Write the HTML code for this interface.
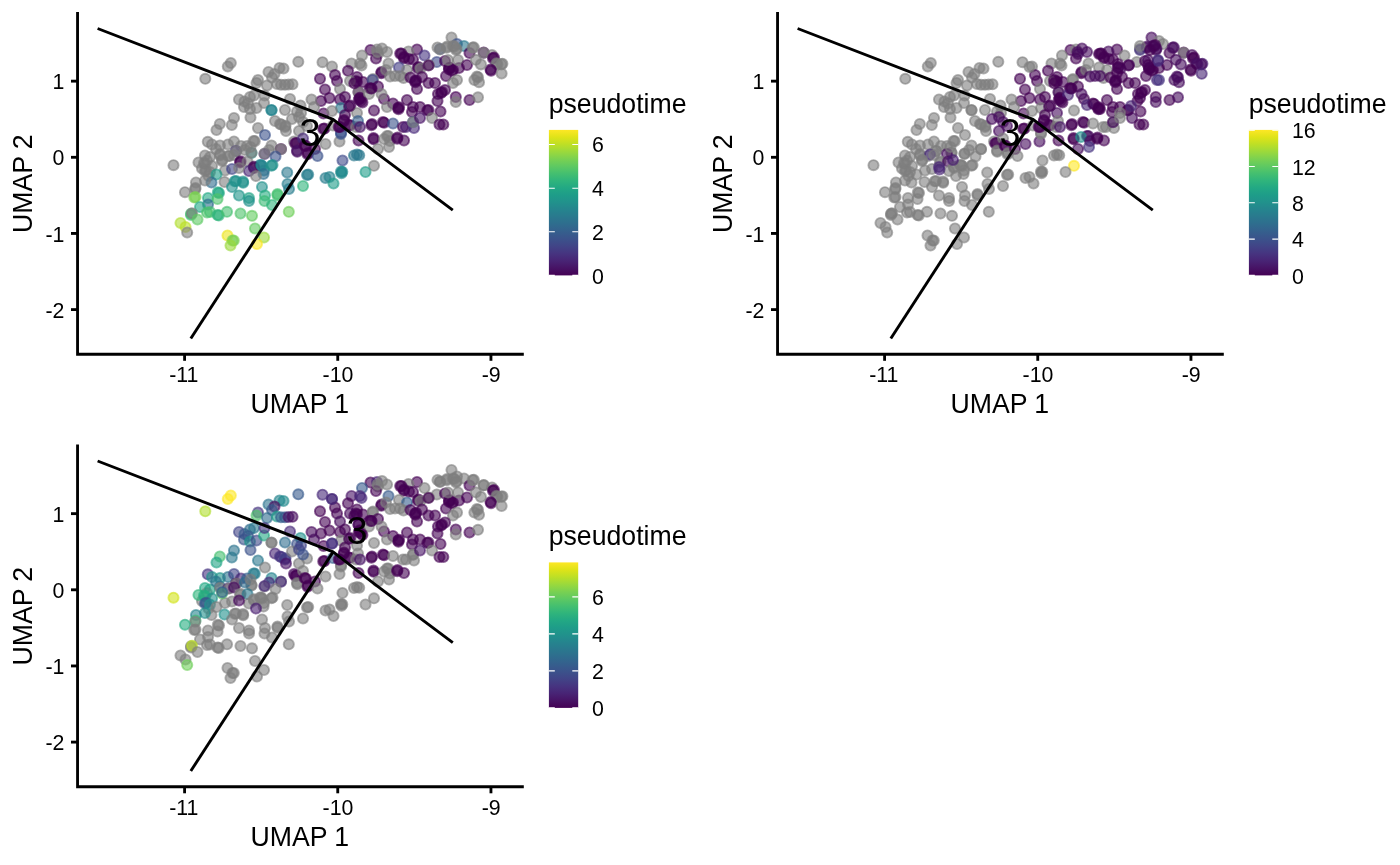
<!DOCTYPE html>
<html lang="en">
<head>
<meta charset="utf-8">
<title>pseudotime UMAP</title>
<style>
html,body{margin:0;padding:0;background:#fff;}
body{width:1400px;height:865px;overflow:hidden;}
svg{display:block;}
text{font-family:"Liberation Sans",sans-serif;fill:#000;}
.tk{font-size:21.33px;}
.ti{font-size:26.67px;}
.ax{fill:none;stroke:#000;stroke-width:2.85;stroke-linejoin:miter;}
.tr{fill:none;stroke:#000;stroke-width:2.9;stroke-linejoin:round;stroke-linecap:butt;}
.p circle{fill-opacity:.6;stroke-opacity:.6;stroke-width:1.9;}
.lt{stroke:#fff;stroke-width:1.1;}
</style>
</head>
<body>
<svg width="1400" height="865" viewBox="0 0 1400 865">
<defs>
<linearGradient id="vg" x1="0" y1="1" x2="0" y2="0">

<stop offset="0" stop-color="#440154"/>
<stop offset="0.05" stop-color="#471365"/>
<stop offset="0.1" stop-color="#482475"/>
<stop offset="0.15" stop-color="#463480"/>
<stop offset="0.2" stop-color="#414487"/>
<stop offset="0.25" stop-color="#3b528b"/>
<stop offset="0.3" stop-color="#355f8d"/>
<stop offset="0.35" stop-color="#2f6c8e"/>
<stop offset="0.4" stop-color="#2a788e"/>
<stop offset="0.45" stop-color="#25848e"/>
<stop offset="0.5" stop-color="#21918c"/>
<stop offset="0.55" stop-color="#1e9c89"/>
<stop offset="0.6" stop-color="#22a884"/>
<stop offset="0.65" stop-color="#2fb47c"/>
<stop offset="0.7" stop-color="#44bf70"/>
<stop offset="0.75" stop-color="#5ec962"/>
<stop offset="0.8" stop-color="#7ad151"/>
<stop offset="0.85" stop-color="#9bd93c"/>
<stop offset="0.9" stop-color="#bddf26"/>
<stop offset="0.95" stop-color="#dfe318"/>
<stop offset="1" stop-color="#fde725"/>

</linearGradient>
</defs>
<rect width="1400" height="865" fill="#fff"/>

<g transform="translate(0,0)">
<g class="p">
<circle cx="205.3" cy="78.8" r="5.1" fill="#7f7f7f" stroke="#7f7f7f"/>
<circle cx="227.8" cy="66.5" r="5.1" fill="#7f7f7f" stroke="#7f7f7f"/>
<circle cx="230.8" cy="63" r="5.1" fill="#7f7f7f" stroke="#7f7f7f"/>
<circle cx="298.3" cy="61.8" r="5.1" fill="#7f7f7f" stroke="#7f7f7f"/>
<circle cx="322.5" cy="62.2" r="5.1" fill="#7f7f7f" stroke="#7f7f7f"/>
<circle cx="268.5" cy="72" r="5.1" fill="#7f7f7f" stroke="#7f7f7f"/>
<circle cx="279.5" cy="68" r="5.1" fill="#7f7f7f" stroke="#7f7f7f"/>
<circle cx="283.5" cy="68.5" r="5.1" fill="#7f7f7f" stroke="#7f7f7f"/>
<circle cx="274.5" cy="74" r="5.1" fill="#7f7f7f" stroke="#7f7f7f"/>
<circle cx="272" cy="77.5" r="5.1" fill="#7f7f7f" stroke="#7f7f7f"/>
<circle cx="258" cy="80" r="5.1" fill="#7f7f7f" stroke="#7f7f7f"/>
<circle cx="256.5" cy="83" r="5.1" fill="#7f7f7f" stroke="#7f7f7f"/>
<circle cx="267" cy="85.5" r="5.1" fill="#7f7f7f" stroke="#7f7f7f"/>
<circle cx="277" cy="84" r="5.1" fill="#7f7f7f" stroke="#7f7f7f"/>
<circle cx="281" cy="84.8" r="5.1" fill="#7f7f7f" stroke="#7f7f7f"/>
<circle cx="285" cy="84.8" r="5.1" fill="#7f7f7f" stroke="#7f7f7f"/>
<circle cx="288.5" cy="84.5" r="5.1" fill="#7f7f7f" stroke="#7f7f7f"/>
<circle cx="292.5" cy="84.3" r="5.1" fill="#7f7f7f" stroke="#7f7f7f"/>
<circle cx="320" cy="78.8" r="5.1" fill="#440154" stroke="#440154"/>
<circle cx="325" cy="89.5" r="5.1" fill="#440154" stroke="#440154"/>
<circle cx="321" cy="101" r="5.1" fill="#440154" stroke="#440154"/>
<circle cx="329.5" cy="98" r="5.1" fill="#440154" stroke="#440154"/>
<circle cx="323.5" cy="113.5" r="5.1" fill="#440154" stroke="#440154"/>
<circle cx="239" cy="99.5" r="5.1" fill="#7f7f7f" stroke="#7f7f7f"/>
<circle cx="244.5" cy="101.5" r="5.1" fill="#7f7f7f" stroke="#7f7f7f"/>
<circle cx="250" cy="97" r="5.1" fill="#7f7f7f" stroke="#7f7f7f"/>
<circle cx="254" cy="95.5" r="5.1" fill="#7f7f7f" stroke="#7f7f7f"/>
<circle cx="248" cy="103.5" r="5.1" fill="#7f7f7f" stroke="#7f7f7f"/>
<circle cx="244" cy="107" r="5.1" fill="#7f7f7f" stroke="#7f7f7f"/>
<circle cx="250" cy="109" r="5.1" fill="#7f7f7f" stroke="#7f7f7f"/>
<circle cx="256.5" cy="108" r="5.1" fill="#7f7f7f" stroke="#7f7f7f"/>
<circle cx="264" cy="103" r="5.1" fill="#7f7f7f" stroke="#7f7f7f"/>
<circle cx="264.5" cy="95.5" r="5.1" fill="#7f7f7f" stroke="#7f7f7f"/>
<circle cx="290" cy="99" r="5.1" fill="#7f7f7f" stroke="#7f7f7f"/>
<circle cx="300.5" cy="105.5" r="5.1" fill="#7f7f7f" stroke="#7f7f7f"/>
<circle cx="311.5" cy="99.5" r="5.1" fill="#7f7f7f" stroke="#7f7f7f"/>
<circle cx="285" cy="110" r="5.1" fill="#7f7f7f" stroke="#7f7f7f"/>
<circle cx="297" cy="111.5" r="5.1" fill="#7f7f7f" stroke="#7f7f7f"/>
<circle cx="301" cy="113" r="5.1" fill="#7f7f7f" stroke="#7f7f7f"/>
<circle cx="271.5" cy="110" r="5.1" fill="#25848e" stroke="#25848e"/>
<circle cx="271.5" cy="110.2" r="5.1" fill="#25848e" stroke="#25848e"/>
<circle cx="314" cy="107" r="5.1" fill="#7f7f7f" stroke="#7f7f7f"/>
<circle cx="451.5" cy="37.5" r="5.1" fill="#7f7f7f" stroke="#7f7f7f"/>
<circle cx="457" cy="44" r="5.1" fill="#3b528b" stroke="#3b528b"/>
<circle cx="464" cy="46" r="5.1" fill="#2a788e" stroke="#2a788e"/>
<circle cx="440" cy="49" r="5.1" fill="#3b528b" stroke="#3b528b"/>
<circle cx="447" cy="46.5" r="5.1" fill="#7f7f7f" stroke="#7f7f7f"/>
<circle cx="446.7" cy="47.77" r="5.1" fill="#7f7f7f" stroke="#7f7f7f"/>
<circle cx="453" cy="46" r="5.1" fill="#7f7f7f" stroke="#7f7f7f"/>
<circle cx="454.23" cy="46.41" r="5.1" fill="#7f7f7f" stroke="#7f7f7f"/>
<circle cx="456" cy="50" r="5.1" fill="#7f7f7f" stroke="#7f7f7f"/>
<circle cx="456.51" cy="48.81" r="5.1" fill="#7f7f7f" stroke="#7f7f7f"/>
<circle cx="440" cy="49.5" r="5.1" fill="#7f7f7f" stroke="#7f7f7f"/>
<circle cx="437.5" cy="47.5" r="5.1" fill="#7f7f7f" stroke="#7f7f7f"/>
<circle cx="417" cy="49.5" r="5.1" fill="#440154" stroke="#440154"/>
<circle cx="424.5" cy="55.5" r="5.1" fill="#463480" stroke="#463480"/>
<circle cx="408.5" cy="51.5" r="5.1" fill="#7f7f7f" stroke="#7f7f7f"/>
<circle cx="401.5" cy="53.5" r="5.1" fill="#440154" stroke="#440154"/>
<circle cx="400.2" cy="53.6" r="5.1" fill="#440154" stroke="#440154"/>
<circle cx="404" cy="57" r="5.1" fill="#440154" stroke="#440154"/>
<circle cx="403.98" cy="58.3" r="5.1" fill="#440154" stroke="#440154"/>
<circle cx="370.5" cy="50" r="5.1" fill="#440154" stroke="#440154"/>
<circle cx="377" cy="49.5" r="5.1" fill="#7f7f7f" stroke="#7f7f7f"/>
<circle cx="382" cy="48.5" r="5.1" fill="#7f7f7f" stroke="#7f7f7f"/>
<circle cx="387" cy="52" r="5.1" fill="#7f7f7f" stroke="#7f7f7f"/>
<circle cx="378" cy="54" r="5.1" fill="#7f7f7f" stroke="#7f7f7f"/>
<circle cx="376" cy="58.5" r="5.1" fill="#440154" stroke="#440154"/>
<circle cx="362" cy="55.5" r="5.1" fill="#7f7f7f" stroke="#7f7f7f"/>
<circle cx="351.5" cy="63.5" r="5.1" fill="#7f7f7f" stroke="#7f7f7f"/>
<circle cx="360" cy="63.5" r="5.1" fill="#7f7f7f" stroke="#7f7f7f"/>
<circle cx="361.5" cy="65.5" r="5.1" fill="#7f7f7f" stroke="#7f7f7f"/>
<circle cx="388.5" cy="63.5" r="5.1" fill="#7f7f7f" stroke="#7f7f7f"/>
<circle cx="332" cy="66.5" r="5.1" fill="#7f7f7f" stroke="#7f7f7f"/>
<circle cx="348" cy="70.8" r="5.1" fill="#440154" stroke="#440154"/>
<circle cx="335" cy="75" r="5.1" fill="#440154" stroke="#440154"/>
<circle cx="337" cy="81" r="5.1" fill="#440154" stroke="#440154"/>
<circle cx="357" cy="77" r="5.1" fill="#440154" stroke="#440154"/>
<circle cx="356" cy="81" r="5.1" fill="#440154" stroke="#440154"/>
<circle cx="356.9" cy="81.93" r="5.1" fill="#440154" stroke="#440154"/>
<circle cx="363" cy="82" r="5.1" fill="#440154" stroke="#440154"/>
<circle cx="381.5" cy="72" r="5.1" fill="#440154" stroke="#440154"/>
<circle cx="381.31" cy="73.29" r="5.1" fill="#440154" stroke="#440154"/>
<circle cx="386" cy="70" r="5.1" fill="#7f7f7f" stroke="#7f7f7f"/>
<circle cx="399" cy="67.5" r="5.1" fill="#433e85" stroke="#433e85"/>
<circle cx="436.8" cy="62" r="5.1" fill="#3e4989" stroke="#3e4989"/>
<circle cx="407" cy="70" r="5.1" fill="#7f7f7f" stroke="#7f7f7f"/>
<circle cx="403.5" cy="78" r="5.1" fill="#7f7f7f" stroke="#7f7f7f"/>
<circle cx="400" cy="76" r="5.1" fill="#7f7f7f" stroke="#7f7f7f"/>
<circle cx="418.5" cy="67" r="5.1" fill="#440154" stroke="#440154"/>
<circle cx="417.88" cy="68.14" r="5.1" fill="#440154" stroke="#440154"/>
<circle cx="420.5" cy="68.5" r="5.1" fill="#7f7f7f" stroke="#7f7f7f"/>
<circle cx="409" cy="59" r="5.1" fill="#440154" stroke="#440154"/>
<circle cx="413" cy="59.5" r="5.1" fill="#440154" stroke="#440154"/>
<circle cx="429" cy="65" r="5.1" fill="#7f7f7f" stroke="#7f7f7f"/>
<circle cx="428.5" cy="65.5" r="5.1" fill="#440154" stroke="#440154"/>
<circle cx="390" cy="76.5" r="5.1" fill="#7f7f7f" stroke="#7f7f7f"/>
<circle cx="395" cy="76" r="5.1" fill="#7f7f7f" stroke="#7f7f7f"/>
<circle cx="373" cy="79" r="5.1" fill="#7f7f7f" stroke="#7f7f7f"/>
<circle cx="372.5" cy="80" r="5.1" fill="#414487" stroke="#414487"/>
<circle cx="371" cy="88.5" r="5.1" fill="#440154" stroke="#440154"/>
<circle cx="369.72" cy="88.25" r="5.1" fill="#440154" stroke="#440154"/>
<circle cx="378" cy="86.5" r="5.1" fill="#440154" stroke="#440154"/>
<circle cx="350" cy="81" r="5.1" fill="#7f7f7f" stroke="#7f7f7f"/>
<circle cx="340" cy="89" r="5.1" fill="#7f7f7f" stroke="#7f7f7f"/>
<circle cx="358.5" cy="92" r="5.1" fill="#440154" stroke="#440154"/>
<circle cx="358.5" cy="92.2" r="5.1" fill="#7f7f7f" stroke="#7f7f7f"/>
<circle cx="415" cy="81" r="5.1" fill="#440154" stroke="#440154"/>
<circle cx="415.37" cy="82.25" r="5.1" fill="#440154" stroke="#440154"/>
<circle cx="416.14" cy="80.38" r="5.1" fill="#440154" stroke="#440154"/>
<circle cx="410.5" cy="77.5" r="5.1" fill="#440154" stroke="#440154"/>
<circle cx="417" cy="89" r="5.1" fill="#440154" stroke="#440154"/>
<circle cx="422" cy="77" r="5.1" fill="#440154" stroke="#440154"/>
<circle cx="428.5" cy="83" r="5.1" fill="#440154" stroke="#440154"/>
<circle cx="435" cy="83" r="5.1" fill="#440154" stroke="#440154"/>
<circle cx="449" cy="68" r="5.1" fill="#440154" stroke="#440154"/>
<circle cx="448.92" cy="69.3" r="5.1" fill="#440154" stroke="#440154"/>
<circle cx="450.29" cy="67.81" r="5.1" fill="#440154" stroke="#440154"/>
<circle cx="453" cy="70" r="5.1" fill="#440154" stroke="#440154"/>
<circle cx="451.92" cy="70.72" r="5.1" fill="#440154" stroke="#440154"/>
<circle cx="459" cy="68" r="5.1" fill="#440154" stroke="#440154"/>
<circle cx="445" cy="61" r="5.1" fill="#440154" stroke="#440154"/>
<circle cx="458" cy="60" r="5.1" fill="#7f7f7f" stroke="#7f7f7f"/>
<circle cx="448" cy="60" r="5.1" fill="#7f7f7f" stroke="#7f7f7f"/>
<circle cx="467" cy="65" r="5.1" fill="#440154" stroke="#440154"/>
<circle cx="469.5" cy="53" r="5.1" fill="#440154" stroke="#440154"/>
<circle cx="446" cy="76" r="5.1" fill="#440154" stroke="#440154"/>
<circle cx="453" cy="83" r="5.1" fill="#7f7f7f" stroke="#7f7f7f"/>
<circle cx="457" cy="80" r="5.1" fill="#7f7f7f" stroke="#7f7f7f"/>
<circle cx="438" cy="94" r="5.1" fill="#440154" stroke="#440154"/>
<circle cx="445" cy="90" r="5.1" fill="#440154" stroke="#440154"/>
<circle cx="442" cy="92" r="5.1" fill="#440154" stroke="#440154"/>
<circle cx="441.1" cy="92.94" r="5.1" fill="#440154" stroke="#440154"/>
<circle cx="437.5" cy="101" r="5.1" fill="#440154" stroke="#440154"/>
<circle cx="455.8" cy="97" r="5.1" fill="#440154" stroke="#440154"/>
<circle cx="455.8" cy="102" r="5.1" fill="#7f7f7f" stroke="#7f7f7f"/>
<circle cx="469.5" cy="100" r="5.1" fill="#440154" stroke="#440154"/>
<circle cx="407" cy="100" r="5.1" fill="#440154" stroke="#440154"/>
<circle cx="384" cy="99" r="5.1" fill="#440154" stroke="#440154"/>
<circle cx="381.5" cy="94" r="5.1" fill="#7f7f7f" stroke="#7f7f7f"/>
<circle cx="393" cy="103.5" r="5.1" fill="#440154" stroke="#440154"/>
<circle cx="398" cy="108" r="5.1" fill="#440154" stroke="#440154"/>
<circle cx="398.47" cy="109.21" r="5.1" fill="#440154" stroke="#440154"/>
<circle cx="399.09" cy="107.29" r="5.1" fill="#440154" stroke="#440154"/>
<circle cx="387" cy="107" r="5.1" fill="#7f7f7f" stroke="#7f7f7f"/>
<circle cx="360" cy="99" r="5.1" fill="#440154" stroke="#440154"/>
<circle cx="359.75" cy="97.72" r="5.1" fill="#440154" stroke="#440154"/>
<circle cx="358.81" cy="99.51" r="5.1" fill="#440154" stroke="#440154"/>
<circle cx="361" cy="101" r="5.1" fill="#440154" stroke="#440154"/>
<circle cx="345" cy="97" r="5.1" fill="#440154" stroke="#440154"/>
<circle cx="340" cy="99.5" r="5.1" fill="#440154" stroke="#440154"/>
<circle cx="350.5" cy="105.5" r="5.1" fill="#440154" stroke="#440154"/>
<circle cx="341" cy="108" r="5.1" fill="#2a788e" stroke="#2a788e"/>
<circle cx="345" cy="115" r="5.1" fill="#440154" stroke="#440154"/>
<circle cx="332" cy="111" r="5.1" fill="#7f7f7f" stroke="#7f7f7f"/>
<circle cx="357" cy="113" r="5.1" fill="#7f7f7f" stroke="#7f7f7f"/>
<circle cx="374" cy="110.5" r="5.1" fill="#440154" stroke="#440154"/>
<circle cx="413" cy="107" r="5.1" fill="#440154" stroke="#440154"/>
<circle cx="420" cy="107" r="5.1" fill="#440154" stroke="#440154"/>
<circle cx="412" cy="112" r="5.1" fill="#440154" stroke="#440154"/>
<circle cx="428.5" cy="110" r="5.1" fill="#440154" stroke="#440154"/>
<circle cx="427.27" cy="110.41" r="5.1" fill="#440154" stroke="#440154"/>
<circle cx="440.5" cy="111.5" r="5.1" fill="#440154" stroke="#440154"/>
<circle cx="369" cy="94" r="5.1" fill="#7f7f7f" stroke="#7f7f7f"/>
<circle cx="472.6" cy="47.6" r="5.1" fill="#7f7f7f" stroke="#7f7f7f"/>
<circle cx="473.89" cy="47.41" r="5.1" fill="#7f7f7f" stroke="#7f7f7f"/>
<circle cx="483.7" cy="52.6" r="5.1" fill="#440154" stroke="#440154"/>
<circle cx="483.7" cy="52.8" r="5.1" fill="#7f7f7f" stroke="#7f7f7f"/>
<circle cx="492" cy="55" r="5.1" fill="#7f7f7f" stroke="#7f7f7f"/>
<circle cx="493" cy="58.4" r="5.1" fill="#440154" stroke="#440154"/>
<circle cx="493.98" cy="57.55" r="5.1" fill="#440154" stroke="#440154"/>
<circle cx="497.3" cy="64.4" r="5.1" fill="#7f7f7f" stroke="#7f7f7f"/>
<circle cx="496.54" cy="63.35" r="5.1" fill="#7f7f7f" stroke="#7f7f7f"/>
<circle cx="502.4" cy="63.7" r="5.1" fill="#7f7f7f" stroke="#7f7f7f"/>
<circle cx="501.28" cy="64.37" r="5.1" fill="#7f7f7f" stroke="#7f7f7f"/>
<circle cx="490.5" cy="69.5" r="5.1" fill="#440154" stroke="#440154"/>
<circle cx="491.07" cy="70.67" r="5.1" fill="#440154" stroke="#440154"/>
<circle cx="501.6" cy="73.5" r="5.1" fill="#7f7f7f" stroke="#7f7f7f"/>
<circle cx="475.8" cy="59.8" r="5.1" fill="#7f7f7f" stroke="#7f7f7f"/>
<circle cx="480.9" cy="64.4" r="5.1" fill="#7f7f7f" stroke="#7f7f7f"/>
<circle cx="476.9" cy="76.5" r="5.1" fill="#7f7f7f" stroke="#7f7f7f"/>
<circle cx="478.01" cy="77.18" r="5.1" fill="#7f7f7f" stroke="#7f7f7f"/>
<circle cx="479" cy="82.2" r="5.1" fill="#7f7f7f" stroke="#7f7f7f"/>
<circle cx="474.4" cy="80" r="5.1" fill="#7f7f7f" stroke="#7f7f7f"/>
<circle cx="478" cy="97.3" r="5.1" fill="#7f7f7f" stroke="#7f7f7f"/>
<circle cx="234" cy="118" r="5.1" fill="#7f7f7f" stroke="#7f7f7f"/>
<circle cx="250.5" cy="117.5" r="5.1" fill="#7f7f7f" stroke="#7f7f7f"/>
<circle cx="219.8" cy="124" r="5.1" fill="#7f7f7f" stroke="#7f7f7f"/>
<circle cx="216.5" cy="130" r="5.1" fill="#7f7f7f" stroke="#7f7f7f"/>
<circle cx="231.8" cy="125" r="5.1" fill="#7f7f7f" stroke="#7f7f7f"/>
<circle cx="258" cy="128" r="5.1" fill="#7f7f7f" stroke="#7f7f7f"/>
<circle cx="265" cy="135" r="5.1" fill="#3b528b" stroke="#3b528b"/>
<circle cx="275" cy="121" r="5.1" fill="#7f7f7f" stroke="#7f7f7f"/>
<circle cx="280" cy="124" r="5.1" fill="#7f7f7f" stroke="#7f7f7f"/>
<circle cx="281.23" cy="124.43" r="5.1" fill="#7f7f7f" stroke="#7f7f7f"/>
<circle cx="285" cy="127" r="5.1" fill="#7f7f7f" stroke="#7f7f7f"/>
<circle cx="285.54" cy="125.82" r="5.1" fill="#7f7f7f" stroke="#7f7f7f"/>
<circle cx="286" cy="131" r="5.1" fill="#7f7f7f" stroke="#7f7f7f"/>
<circle cx="292" cy="119" r="5.1" fill="#7f7f7f" stroke="#7f7f7f"/>
<circle cx="299" cy="117" r="5.1" fill="#7f7f7f" stroke="#7f7f7f"/>
<circle cx="299" cy="131" r="5.1" fill="#7f7f7f" stroke="#7f7f7f"/>
<circle cx="207.8" cy="141.8" r="5.1" fill="#7f7f7f" stroke="#7f7f7f"/>
<circle cx="212" cy="144.5" r="5.1" fill="#7f7f7f" stroke="#7f7f7f"/>
<circle cx="220" cy="145.5" r="5.1" fill="#7f7f7f" stroke="#7f7f7f"/>
<circle cx="228" cy="144.5" r="5.1" fill="#7f7f7f" stroke="#7f7f7f"/>
<circle cx="234" cy="141.5" r="5.1" fill="#7f7f7f" stroke="#7f7f7f"/>
<circle cx="253.5" cy="141" r="5.1" fill="#7f7f7f" stroke="#7f7f7f"/>
<circle cx="254.79" cy="141.16" r="5.1" fill="#7f7f7f" stroke="#7f7f7f"/>
<circle cx="241" cy="146" r="5.1" fill="#7f7f7f" stroke="#7f7f7f"/>
<circle cx="247" cy="146" r="5.1" fill="#7f7f7f" stroke="#7f7f7f"/>
<circle cx="271.5" cy="145.5" r="5.1" fill="#7f7f7f" stroke="#7f7f7f"/>
<circle cx="269" cy="150" r="5.1" fill="#7f7f7f" stroke="#7f7f7f"/>
<circle cx="281" cy="149" r="5.1" fill="#440154" stroke="#440154"/>
<circle cx="281" cy="149.2" r="5.1" fill="#7f7f7f" stroke="#7f7f7f"/>
<circle cx="294" cy="141.5" r="5.1" fill="#7f7f7f" stroke="#7f7f7f"/>
<circle cx="296.5" cy="143" r="5.1" fill="#440154" stroke="#440154"/>
<circle cx="295.25" cy="143.35" r="5.1" fill="#440154" stroke="#440154"/>
<circle cx="297" cy="150.5" r="5.1" fill="#471063" stroke="#471063"/>
<circle cx="297.24" cy="151.78" r="5.1" fill="#471063" stroke="#471063"/>
<circle cx="264.5" cy="154" r="5.1" fill="#472a7a" stroke="#472a7a"/>
<circle cx="264.5" cy="153.5" r="5.1" fill="#7f7f7f" stroke="#7f7f7f"/>
<circle cx="275.5" cy="156.5" r="5.1" fill="#3b528b" stroke="#3b528b"/>
<circle cx="251.5" cy="153" r="5.1" fill="#21918c" stroke="#21918c"/>
<circle cx="251.5" cy="152.5" r="5.1" fill="#7f7f7f" stroke="#7f7f7f"/>
<circle cx="236" cy="151" r="5.1" fill="#463480" stroke="#463480"/>
<circle cx="236.5" cy="151" r="5.1" fill="#7f7f7f" stroke="#7f7f7f"/>
<circle cx="245" cy="150" r="5.1" fill="#7f7f7f" stroke="#7f7f7f"/>
<circle cx="205" cy="155.5" r="5.1" fill="#7f7f7f" stroke="#7f7f7f"/>
<circle cx="207" cy="160.5" r="5.1" fill="#7f7f7f" stroke="#7f7f7f"/>
<circle cx="202" cy="168.5" r="5.1" fill="#7f7f7f" stroke="#7f7f7f"/>
<circle cx="208.5" cy="176" r="5.1" fill="#7f7f7f" stroke="#7f7f7f"/>
<circle cx="225" cy="170.5" r="5.1" fill="#7f7f7f" stroke="#7f7f7f"/>
<circle cx="250.5" cy="147" r="5.1" fill="#7f7f7f" stroke="#7f7f7f"/>
<circle cx="210" cy="157" r="5.1" fill="#7f7f7f" stroke="#7f7f7f"/>
<circle cx="198.5" cy="162.5" r="5.1" fill="#7f7f7f" stroke="#7f7f7f"/>
<circle cx="204" cy="163" r="5.1" fill="#7f7f7f" stroke="#7f7f7f"/>
<circle cx="205.07" cy="163.74" r="5.1" fill="#7f7f7f" stroke="#7f7f7f"/>
<circle cx="216" cy="149" r="5.1" fill="#7f7f7f" stroke="#7f7f7f"/>
<circle cx="220" cy="154" r="5.1" fill="#7f7f7f" stroke="#7f7f7f"/>
<circle cx="220.06" cy="155.3" r="5.1" fill="#7f7f7f" stroke="#7f7f7f"/>
<circle cx="228" cy="156" r="5.1" fill="#7f7f7f" stroke="#7f7f7f"/>
<circle cx="229.3" cy="156.05" r="5.1" fill="#7f7f7f" stroke="#7f7f7f"/>
<circle cx="222" cy="161" r="5.1" fill="#7f7f7f" stroke="#7f7f7f"/>
<circle cx="222.16" cy="159.71" r="5.1" fill="#7f7f7f" stroke="#7f7f7f"/>
<circle cx="212" cy="166" r="5.1" fill="#7f7f7f" stroke="#7f7f7f"/>
<circle cx="205" cy="171" r="5.1" fill="#7f7f7f" stroke="#7f7f7f"/>
<circle cx="206.12" cy="170.34" r="5.1" fill="#7f7f7f" stroke="#7f7f7f"/>
<circle cx="210" cy="172" r="5.1" fill="#7f7f7f" stroke="#7f7f7f"/>
<circle cx="234" cy="155" r="5.1" fill="#7f7f7f" stroke="#7f7f7f"/>
<circle cx="173.5" cy="165.2" r="5.1" fill="#7f7f7f" stroke="#7f7f7f"/>
<circle cx="240" cy="162.5" r="5.1" fill="#440154" stroke="#440154"/>
<circle cx="240.6" cy="161.34" r="5.1" fill="#440154" stroke="#440154"/>
<circle cx="247.5" cy="161.5" r="5.1" fill="#7f7f7f" stroke="#7f7f7f"/>
<circle cx="260" cy="165" r="5.1" fill="#25848e" stroke="#25848e"/>
<circle cx="264" cy="170.5" r="5.1" fill="#2a788e" stroke="#2a788e"/>
<circle cx="254" cy="168" r="5.1" fill="#440154" stroke="#440154"/>
<circle cx="253.88" cy="166.71" r="5.1" fill="#440154" stroke="#440154"/>
<circle cx="249" cy="171" r="5.1" fill="#482475" stroke="#482475"/>
<circle cx="232" cy="169" r="5.1" fill="#414487" stroke="#414487"/>
<circle cx="239" cy="168" r="5.1" fill="#7f7f7f" stroke="#7f7f7f"/>
<circle cx="262" cy="166" r="5.1" fill="#25848e" stroke="#25848e"/>
<circle cx="261.21" cy="164.97" r="5.1" fill="#25848e" stroke="#25848e"/>
<circle cx="272.5" cy="165" r="5.1" fill="#21918c" stroke="#21918c"/>
<circle cx="271.41" cy="165.7" r="5.1" fill="#21918c" stroke="#21918c"/>
<circle cx="263.5" cy="174" r="5.1" fill="#2f6c8e" stroke="#2f6c8e"/>
<circle cx="256" cy="176" r="5.1" fill="#7f7f7f" stroke="#7f7f7f"/>
<circle cx="216.5" cy="174.5" r="5.1" fill="#1e9c89" stroke="#1e9c89"/>
<circle cx="211.5" cy="182.5" r="5.1" fill="#2f6c8e" stroke="#2f6c8e"/>
<circle cx="205" cy="180.5" r="5.1" fill="#7f7f7f" stroke="#7f7f7f"/>
<circle cx="224.5" cy="182" r="5.1" fill="#7f7f7f" stroke="#7f7f7f"/>
<circle cx="236" cy="181" r="5.1" fill="#21918c" stroke="#21918c"/>
<circle cx="234.73" cy="181.28" r="5.1" fill="#21918c" stroke="#21918c"/>
<circle cx="243" cy="181.5" r="5.1" fill="#21918c" stroke="#21918c"/>
<circle cx="243.17" cy="182.79" r="5.1" fill="#21918c" stroke="#21918c"/>
<circle cx="232" cy="187" r="5.1" fill="#21918c" stroke="#21918c"/>
<circle cx="287.2" cy="172.5" r="5.1" fill="#2a788e" stroke="#2a788e"/>
<circle cx="287.5" cy="184" r="5.1" fill="#287d8e" stroke="#287d8e"/>
<circle cx="289" cy="189" r="5.1" fill="#287d8e" stroke="#287d8e"/>
<circle cx="262" cy="187" r="5.1" fill="#21918c" stroke="#21918c"/>
<circle cx="196" cy="182.5" r="5.1" fill="#7f7f7f" stroke="#7f7f7f"/>
<circle cx="195.5" cy="188" r="5.1" fill="#7f7f7f" stroke="#7f7f7f"/>
<circle cx="195.22" cy="189.27" r="5.1" fill="#7f7f7f" stroke="#7f7f7f"/>
<circle cx="185" cy="192.2" r="5.1" fill="#7f7f7f" stroke="#7f7f7f"/>
<circle cx="195.5" cy="197" r="5.1" fill="#7ad151" stroke="#7ad151"/>
<circle cx="194.32" cy="197.55" r="5.1" fill="#7ad151" stroke="#7ad151"/>
<circle cx="208" cy="198" r="5.1" fill="#22a884" stroke="#22a884"/>
<circle cx="219" cy="193" r="5.1" fill="#22a884" stroke="#22a884"/>
<circle cx="217.85" cy="192.4" r="5.1" fill="#22a884" stroke="#22a884"/>
<circle cx="217.5" cy="199" r="5.1" fill="#4ec36b" stroke="#4ec36b"/>
<circle cx="239" cy="195.5" r="5.1" fill="#1f958b" stroke="#1f958b"/>
<circle cx="249" cy="198" r="5.1" fill="#20a386" stroke="#20a386"/>
<circle cx="249" cy="201" r="5.1" fill="#21918c" stroke="#21918c"/>
<circle cx="265" cy="195.5" r="5.1" fill="#26ad81" stroke="#26ad81"/>
<circle cx="277.5" cy="194" r="5.1" fill="#44bf70" stroke="#44bf70"/>
<circle cx="277.5" cy="195.3" r="5.1" fill="#44bf70" stroke="#44bf70"/>
<circle cx="264.5" cy="201" r="5.1" fill="#3bbb75" stroke="#3bbb75"/>
<circle cx="307" cy="126" r="5.1" fill="#7f7f7f" stroke="#7f7f7f"/>
<circle cx="303" cy="122" r="5.1" fill="#7f7f7f" stroke="#7f7f7f"/>
<circle cx="303" cy="138.5" r="5.1" fill="#472a7a" stroke="#472a7a"/>
<circle cx="306" cy="146" r="5.1" fill="#440154" stroke="#440154"/>
<circle cx="304.75" cy="145.66" r="5.1" fill="#440154" stroke="#440154"/>
<circle cx="308" cy="153" r="5.1" fill="#440154" stroke="#440154"/>
<circle cx="307.55" cy="154.22" r="5.1" fill="#440154" stroke="#440154"/>
<circle cx="315" cy="149" r="5.1" fill="#440154" stroke="#440154"/>
<circle cx="324.5" cy="128.5" r="5.1" fill="#440154" stroke="#440154"/>
<circle cx="323.26" cy="128.89" r="5.1" fill="#440154" stroke="#440154"/>
<circle cx="325.5" cy="144" r="5.1" fill="#7f7f7f" stroke="#7f7f7f"/>
<circle cx="317.5" cy="156" r="5.1" fill="#3b528b" stroke="#3b528b"/>
<circle cx="333" cy="125.5" r="5.1" fill="#7f7f7f" stroke="#7f7f7f"/>
<circle cx="339.5" cy="141.5" r="5.1" fill="#7f7f7f" stroke="#7f7f7f"/>
<circle cx="341" cy="134" r="5.1" fill="#3b528b" stroke="#3b528b"/>
<circle cx="340.95" cy="132.7" r="5.1" fill="#3b528b" stroke="#3b528b"/>
<circle cx="340" cy="127" r="5.1" fill="#440154" stroke="#440154"/>
<circle cx="338.7" cy="126.94" r="5.1" fill="#440154" stroke="#440154"/>
<circle cx="344" cy="120" r="5.1" fill="#440154" stroke="#440154"/>
<circle cx="343.82" cy="121.29" r="5.1" fill="#440154" stroke="#440154"/>
<circle cx="349" cy="125" r="5.1" fill="#440154" stroke="#440154"/>
<circle cx="350.27" cy="125.29" r="5.1" fill="#440154" stroke="#440154"/>
<circle cx="356" cy="127" r="5.1" fill="#7f7f7f" stroke="#7f7f7f"/>
<circle cx="358" cy="121" r="5.1" fill="#355f8d" stroke="#355f8d"/>
<circle cx="360" cy="127" r="5.1" fill="#471365" stroke="#471365"/>
<circle cx="358.5" cy="140.5" r="5.1" fill="#440154" stroke="#440154"/>
<circle cx="372" cy="124" r="5.1" fill="#440154" stroke="#440154"/>
<circle cx="371.39" cy="125.15" r="5.1" fill="#440154" stroke="#440154"/>
<circle cx="383" cy="122" r="5.1" fill="#440154" stroke="#440154"/>
<circle cx="384.09" cy="122.7" r="5.1" fill="#440154" stroke="#440154"/>
<circle cx="393" cy="123.5" r="5.1" fill="#3b528b" stroke="#3b528b"/>
<circle cx="373.5" cy="138" r="5.1" fill="#440154" stroke="#440154"/>
<circle cx="373.61" cy="139.3" r="5.1" fill="#440154" stroke="#440154"/>
<circle cx="387" cy="136" r="5.1" fill="#7f7f7f" stroke="#7f7f7f"/>
<circle cx="388.3" cy="136.01" r="5.1" fill="#7f7f7f" stroke="#7f7f7f"/>
<circle cx="384" cy="139" r="5.1" fill="#7f7f7f" stroke="#7f7f7f"/>
<circle cx="390" cy="141" r="5.1" fill="#7f7f7f" stroke="#7f7f7f"/>
<circle cx="389" cy="147" r="5.1" fill="#7f7f7f" stroke="#7f7f7f"/>
<circle cx="378" cy="149" r="5.1" fill="#7f7f7f" stroke="#7f7f7f"/>
<circle cx="397.5" cy="137.5" r="5.1" fill="#440154" stroke="#440154"/>
<circle cx="397.15" cy="138.75" r="5.1" fill="#440154" stroke="#440154"/>
<circle cx="404" cy="140.5" r="5.1" fill="#440154" stroke="#440154"/>
<circle cx="403" cy="127" r="5.1" fill="#440154" stroke="#440154"/>
<circle cx="406" cy="127" r="5.1" fill="#481d6f" stroke="#481d6f"/>
<circle cx="414" cy="128" r="5.1" fill="#472a7a" stroke="#472a7a"/>
<circle cx="413" cy="122" r="5.1" fill="#3b528b" stroke="#3b528b"/>
<circle cx="413" cy="122.2" r="5.1" fill="#7f7f7f" stroke="#7f7f7f"/>
<circle cx="420" cy="118" r="5.1" fill="#471365" stroke="#471365"/>
<circle cx="432" cy="118" r="5.1" fill="#7f7f7f" stroke="#7f7f7f"/>
<circle cx="439.5" cy="124.5" r="5.1" fill="#440154" stroke="#440154"/>
<circle cx="354" cy="155.5" r="5.1" fill="#2a788e" stroke="#2a788e"/>
<circle cx="357" cy="154.5" r="5.1" fill="#2a788e" stroke="#2a788e"/>
<circle cx="359.2" cy="155.2" r="5.1" fill="#2a788e" stroke="#2a788e"/>
<circle cx="342.5" cy="160.5" r="5.1" fill="#3e4989" stroke="#3e4989"/>
<circle cx="341" cy="171.5" r="5.1" fill="#228b8d" stroke="#228b8d"/>
<circle cx="342.29" cy="171.68" r="5.1" fill="#228b8d" stroke="#228b8d"/>
<circle cx="341.5" cy="173.2" r="5.1" fill="#228b8d" stroke="#228b8d"/>
<circle cx="374" cy="165.8" r="5.1" fill="#7f7f7f" stroke="#7f7f7f"/>
<circle cx="365.5" cy="172" r="5.1" fill="#1e9c89" stroke="#1e9c89"/>
<circle cx="307" cy="175" r="5.1" fill="#287d8e" stroke="#287d8e"/>
<circle cx="308.18" cy="174.46" r="5.1" fill="#287d8e" stroke="#287d8e"/>
<circle cx="325.5" cy="178" r="5.1" fill="#287d8e" stroke="#287d8e"/>
<circle cx="329.5" cy="177" r="5.1" fill="#25848e" stroke="#25848e"/>
<circle cx="333.5" cy="183.5" r="5.1" fill="#1e9c89" stroke="#1e9c89"/>
<circle cx="303" cy="186" r="5.1" fill="#2fb47c" stroke="#2fb47c"/>
<circle cx="443.3" cy="124.5" r="5.1" fill="#440154" stroke="#440154"/>
<circle cx="208" cy="204.5" r="5.1" fill="#2f6c8e" stroke="#2f6c8e"/>
<circle cx="200" cy="207" r="5.1" fill="#22a884" stroke="#22a884"/>
<circle cx="272" cy="205" r="5.1" fill="#2fb47c" stroke="#2fb47c"/>
<circle cx="191" cy="215" r="5.1" fill="#44bf70" stroke="#44bf70"/>
<circle cx="191.01" cy="213.7" r="5.1" fill="#44bf70" stroke="#44bf70"/>
<circle cx="192" cy="213.2" r="5.1" fill="#7f7f7f" stroke="#7f7f7f"/>
<circle cx="207" cy="212.5" r="5.1" fill="#4ec36b" stroke="#4ec36b"/>
<circle cx="210" cy="212" r="5.1" fill="#44bf70" stroke="#44bf70"/>
<circle cx="197.5" cy="219.5" r="5.1" fill="#5ec962" stroke="#5ec962"/>
<circle cx="217.5" cy="215" r="5.1" fill="#2fb47c" stroke="#2fb47c"/>
<circle cx="218.75" cy="215.35" r="5.1" fill="#2fb47c" stroke="#2fb47c"/>
<circle cx="227" cy="211.8" r="5.1" fill="#44bf70" stroke="#44bf70"/>
<circle cx="240.5" cy="213.5" r="5.1" fill="#4ec36b" stroke="#4ec36b"/>
<circle cx="252" cy="215.8" r="5.1" fill="#63cb5f" stroke="#63cb5f"/>
<circle cx="288.8" cy="211.8" r="5.1" fill="#6ece58" stroke="#6ece58"/>
<circle cx="180.5" cy="223" r="5.1" fill="#b0dd2f" stroke="#b0dd2f"/>
<circle cx="185.5" cy="227" r="5.1" fill="#bddf26" stroke="#bddf26"/>
<circle cx="187.2" cy="232.5" r="5.1" fill="#7f7f7f" stroke="#7f7f7f"/>
<circle cx="255" cy="228.5" r="5.1" fill="#63cb5f" stroke="#63cb5f"/>
<circle cx="264" cy="237.5" r="5.1" fill="#9bd93c" stroke="#9bd93c"/>
<circle cx="257" cy="244" r="5.1" fill="#fde725" stroke="#fde725"/>
<circle cx="227.5" cy="235.5" r="5.1" fill="#ece51b" stroke="#ece51b"/>
<circle cx="232.5" cy="240.5" r="5.1" fill="#7ad151" stroke="#7ad151"/>
<circle cx="233.8" cy="240.57" r="5.1" fill="#7ad151" stroke="#7ad151"/>
<circle cx="230.5" cy="245.5" r="5.1" fill="#9bd93c" stroke="#9bd93c"/>
<circle cx="354.3" cy="83.3" r="5.1" fill="#440154" stroke="#440154"/>
<circle cx="349.1" cy="106.4" r="5.1" fill="#440154" stroke="#440154"/>
<circle cx="362.4" cy="102.4" r="5.1" fill="#440154" stroke="#440154"/>
<circle cx="371.6" cy="88.5" r="5.1" fill="#440154" stroke="#440154"/>
<circle cx="377.4" cy="52" r="5.1" fill="#7f7f7f" stroke="#7f7f7f"/>
</g>
<path class="tr" d="M97.6,28.5 L333.1,119.4 L375,151.8 L452.8,210.1"/>
<path class="tr" d="M333.1,119.4 L190.8,338.5"/>
<text transform="translate(310.1,146.1) scale(1,1.02)" text-anchor="middle" style="font-size:37.9px">3</text>
<path class="ax" d="M77.55,12 V354.2 H523.8"/>
<path class="ax" d="M71,81.15 H77.5"/>
<text class="tk" transform="translate(64.4,89) scale(1,1.05)" text-anchor="end">1</text>
<path class="ax" d="M71,157.3 H77.5"/>
<text class="tk" transform="translate(64.4,165) scale(1,1.05)" text-anchor="end">0</text>
<path class="ax" d="M71,233.45 H77.5"/>
<text class="tk" transform="translate(64.4,242) scale(1,1.05)" text-anchor="end">-1</text>
<path class="ax" d="M71,309.6 H77.5"/>
<text class="tk" transform="translate(64.4,318) scale(1,1.05)" text-anchor="end">-2</text>
<path class="ax" d="M184.6,354.2 V360.8"/>
<text class="tk" transform="translate(183.8,382) scale(1,1.05)" text-anchor="middle">-11</text>
<path class="ax" d="M337.75,354.2 V360.8"/>
<text class="tk" transform="translate(337.95,382) scale(1,1.05)" text-anchor="middle">-10</text>
<path class="ax" d="M490.95,354.2 V360.8"/>
<text class="tk" transform="translate(491.25,382) scale(1,1.05)" text-anchor="middle">-9</text>
<text class="ti" transform="translate(299.8,413) scale(1,1.05)" text-anchor="middle">UMAP 1</text>
<text class="ti" transform="translate(32.3,183.7) rotate(-90) scale(1,1.05)" text-anchor="middle">UMAP 2</text>
<text class="ti" transform="translate(548.7,112.8) scale(1,1.05)">pseudotime</text>
<rect x="548.9" y="129.9" width="29.3" height="145.5" fill="url(#vg)"/>
<path class="lt" d="M548.9,275.4 h5.9 M572.3,275.4 h5.9"/>
<text class="tk" transform="translate(592,284) scale(1,1.05)">0</text>
<path class="lt" d="M548.9,231.8 h5.9 M572.3,231.8 h5.9"/>
<text class="tk" transform="translate(592,240) scale(1,1.05)">2</text>
<path class="lt" d="M548.9,188.2 h5.9 M572.3,188.2 h5.9"/>
<text class="tk" transform="translate(592,196) scale(1,1.05)">4</text>
<path class="lt" d="M548.9,144.5 h5.9 M572.3,144.5 h5.9"/>
<text class="tk" transform="translate(592,152) scale(1,1.05)">6</text>
</g>
<g transform="translate(700,0)">
<g class="p">
<circle cx="205.3" cy="78.8" r="5.1" fill="#7f7f7f" stroke="#7f7f7f"/>
<circle cx="227.8" cy="66.5" r="5.1" fill="#7f7f7f" stroke="#7f7f7f"/>
<circle cx="230.8" cy="63" r="5.1" fill="#7f7f7f" stroke="#7f7f7f"/>
<circle cx="298.3" cy="61.8" r="5.1" fill="#7f7f7f" stroke="#7f7f7f"/>
<circle cx="322.5" cy="62.2" r="5.1" fill="#7f7f7f" stroke="#7f7f7f"/>
<circle cx="268.5" cy="72" r="5.1" fill="#7f7f7f" stroke="#7f7f7f"/>
<circle cx="279.5" cy="68" r="5.1" fill="#7f7f7f" stroke="#7f7f7f"/>
<circle cx="283.5" cy="68.5" r="5.1" fill="#7f7f7f" stroke="#7f7f7f"/>
<circle cx="274.5" cy="74" r="5.1" fill="#7f7f7f" stroke="#7f7f7f"/>
<circle cx="272" cy="77.5" r="5.1" fill="#7f7f7f" stroke="#7f7f7f"/>
<circle cx="258" cy="80" r="5.1" fill="#7f7f7f" stroke="#7f7f7f"/>
<circle cx="256.5" cy="83" r="5.1" fill="#7f7f7f" stroke="#7f7f7f"/>
<circle cx="267" cy="85.5" r="5.1" fill="#7f7f7f" stroke="#7f7f7f"/>
<circle cx="277" cy="84" r="5.1" fill="#7f7f7f" stroke="#7f7f7f"/>
<circle cx="281" cy="84.8" r="5.1" fill="#7f7f7f" stroke="#7f7f7f"/>
<circle cx="285" cy="84.8" r="5.1" fill="#7f7f7f" stroke="#7f7f7f"/>
<circle cx="288.5" cy="84.5" r="5.1" fill="#7f7f7f" stroke="#7f7f7f"/>
<circle cx="292.5" cy="84.3" r="5.1" fill="#7f7f7f" stroke="#7f7f7f"/>
<circle cx="320" cy="78.8" r="5.1" fill="#440154" stroke="#440154"/>
<circle cx="325" cy="89.5" r="5.1" fill="#440154" stroke="#440154"/>
<circle cx="321" cy="101" r="5.1" fill="#440154" stroke="#440154"/>
<circle cx="329.5" cy="98" r="5.1" fill="#440154" stroke="#440154"/>
<circle cx="323.5" cy="113.5" r="5.1" fill="#440154" stroke="#440154"/>
<circle cx="239" cy="99.5" r="5.1" fill="#7f7f7f" stroke="#7f7f7f"/>
<circle cx="244.5" cy="101.5" r="5.1" fill="#7f7f7f" stroke="#7f7f7f"/>
<circle cx="250" cy="97" r="5.1" fill="#7f7f7f" stroke="#7f7f7f"/>
<circle cx="254" cy="95.5" r="5.1" fill="#7f7f7f" stroke="#7f7f7f"/>
<circle cx="248" cy="103.5" r="5.1" fill="#7f7f7f" stroke="#7f7f7f"/>
<circle cx="244" cy="107" r="5.1" fill="#7f7f7f" stroke="#7f7f7f"/>
<circle cx="250" cy="109" r="5.1" fill="#7f7f7f" stroke="#7f7f7f"/>
<circle cx="256.5" cy="108" r="5.1" fill="#7f7f7f" stroke="#7f7f7f"/>
<circle cx="264" cy="103" r="5.1" fill="#7f7f7f" stroke="#7f7f7f"/>
<circle cx="264.5" cy="95.5" r="5.1" fill="#7f7f7f" stroke="#7f7f7f"/>
<circle cx="290" cy="99" r="5.1" fill="#7f7f7f" stroke="#7f7f7f"/>
<circle cx="300.5" cy="105.5" r="5.1" fill="#7f7f7f" stroke="#7f7f7f"/>
<circle cx="311.5" cy="99.5" r="5.1" fill="#7f7f7f" stroke="#7f7f7f"/>
<circle cx="285" cy="110" r="5.1" fill="#7f7f7f" stroke="#7f7f7f"/>
<circle cx="297" cy="111.5" r="5.1" fill="#7f7f7f" stroke="#7f7f7f"/>
<circle cx="301" cy="113" r="5.1" fill="#7f7f7f" stroke="#7f7f7f"/>
<circle cx="271.5" cy="110" r="5.1" fill="#7f7f7f" stroke="#7f7f7f"/>
<circle cx="271.5" cy="110.2" r="5.1" fill="#7f7f7f" stroke="#7f7f7f"/>
<circle cx="314" cy="107" r="5.1" fill="#7f7f7f" stroke="#7f7f7f"/>
<circle cx="451.5" cy="37.5" r="5.1" fill="#460b5e" stroke="#460b5e"/>
<circle cx="459" cy="41" r="5.1" fill="#7f7f7f" stroke="#7f7f7f"/>
<circle cx="463" cy="44" r="5.1" fill="#7f7f7f" stroke="#7f7f7f"/>
<circle cx="440" cy="49" r="5.1" fill="#7f7f7f" stroke="#7f7f7f"/>
<circle cx="447" cy="46.5" r="5.1" fill="#460b5e" stroke="#460b5e"/>
<circle cx="446.7" cy="47.77" r="5.1" fill="#460b5e" stroke="#460b5e"/>
<circle cx="453" cy="46" r="5.1" fill="#460b5e" stroke="#460b5e"/>
<circle cx="454.23" cy="46.41" r="5.1" fill="#460b5e" stroke="#460b5e"/>
<circle cx="456" cy="50" r="5.1" fill="#460b5e" stroke="#460b5e"/>
<circle cx="456.51" cy="48.81" r="5.1" fill="#460b5e" stroke="#460b5e"/>
<circle cx="440" cy="50" r="5.1" fill="#463480" stroke="#463480"/>
<circle cx="440" cy="46" r="5.1" fill="#7f7f7f" stroke="#7f7f7f"/>
<circle cx="417" cy="49.5" r="5.1" fill="#440154" stroke="#440154"/>
<circle cx="424.5" cy="55.5" r="5.1" fill="#7f7f7f" stroke="#7f7f7f"/>
<circle cx="408.5" cy="51.5" r="5.1" fill="#460b5e" stroke="#460b5e"/>
<circle cx="401.5" cy="53.5" r="5.1" fill="#440154" stroke="#440154"/>
<circle cx="400.2" cy="53.6" r="5.1" fill="#440154" stroke="#440154"/>
<circle cx="404" cy="57" r="5.1" fill="#440154" stroke="#440154"/>
<circle cx="403.98" cy="58.3" r="5.1" fill="#440154" stroke="#440154"/>
<circle cx="370.5" cy="50" r="5.1" fill="#440154" stroke="#440154"/>
<circle cx="376" cy="49.5" r="5.1" fill="#7f7f7f" stroke="#7f7f7f"/>
<circle cx="382" cy="48.5" r="5.1" fill="#460b5e" stroke="#460b5e"/>
<circle cx="387" cy="52" r="5.1" fill="#460b5e" stroke="#460b5e"/>
<circle cx="378" cy="54" r="5.1" fill="#460b5e" stroke="#460b5e"/>
<circle cx="376" cy="58.5" r="5.1" fill="#440154" stroke="#440154"/>
<circle cx="362" cy="55.5" r="5.1" fill="#7f7f7f" stroke="#7f7f7f"/>
<circle cx="351.5" cy="63.5" r="5.1" fill="#7f7f7f" stroke="#7f7f7f"/>
<circle cx="360" cy="63.5" r="5.1" fill="#7f7f7f" stroke="#7f7f7f"/>
<circle cx="361.5" cy="65.5" r="5.1" fill="#7f7f7f" stroke="#7f7f7f"/>
<circle cx="388.5" cy="63.5" r="5.1" fill="#7f7f7f" stroke="#7f7f7f"/>
<circle cx="332" cy="66.5" r="5.1" fill="#7f7f7f" stroke="#7f7f7f"/>
<circle cx="348" cy="70.8" r="5.1" fill="#440154" stroke="#440154"/>
<circle cx="335" cy="75" r="5.1" fill="#440154" stroke="#440154"/>
<circle cx="337" cy="81" r="5.1" fill="#440154" stroke="#440154"/>
<circle cx="357" cy="77" r="5.1" fill="#440154" stroke="#440154"/>
<circle cx="356" cy="81" r="5.1" fill="#440154" stroke="#440154"/>
<circle cx="356.9" cy="81.93" r="5.1" fill="#440154" stroke="#440154"/>
<circle cx="363" cy="82" r="5.1" fill="#440154" stroke="#440154"/>
<circle cx="381.5" cy="72" r="5.1" fill="#440154" stroke="#440154"/>
<circle cx="381.31" cy="73.29" r="5.1" fill="#440154" stroke="#440154"/>
<circle cx="386" cy="70" r="5.1" fill="#7f7f7f" stroke="#7f7f7f"/>
<circle cx="399" cy="67.5" r="5.1" fill="#7f7f7f" stroke="#7f7f7f"/>
<circle cx="436.8" cy="62" r="5.1" fill="#7f7f7f" stroke="#7f7f7f"/>
<circle cx="407" cy="70" r="5.1" fill="#7f7f7f" stroke="#7f7f7f"/>
<circle cx="403.5" cy="78" r="5.1" fill="#7f7f7f" stroke="#7f7f7f"/>
<circle cx="400" cy="76" r="5.1" fill="#460b5e" stroke="#460b5e"/>
<circle cx="418.5" cy="67" r="5.1" fill="#440154" stroke="#440154"/>
<circle cx="417.88" cy="68.14" r="5.1" fill="#440154" stroke="#440154"/>
<circle cx="420.5" cy="68.5" r="5.1" fill="#460b5e" stroke="#460b5e"/>
<circle cx="409" cy="59" r="5.1" fill="#440154" stroke="#440154"/>
<circle cx="413" cy="59.5" r="5.1" fill="#440154" stroke="#440154"/>
<circle cx="429" cy="65" r="5.1" fill="#460b5e" stroke="#460b5e"/>
<circle cx="428.5" cy="65.5" r="5.1" fill="#440154" stroke="#440154"/>
<circle cx="390" cy="76.5" r="5.1" fill="#460b5e" stroke="#460b5e"/>
<circle cx="395" cy="76" r="5.1" fill="#460b5e" stroke="#460b5e"/>
<circle cx="373" cy="79" r="5.1" fill="#7f7f7f" stroke="#7f7f7f"/>
<circle cx="372.5" cy="80" r="5.1" fill="#7f7f7f" stroke="#7f7f7f"/>
<circle cx="371" cy="88.5" r="5.1" fill="#440154" stroke="#440154"/>
<circle cx="369.72" cy="88.25" r="5.1" fill="#440154" stroke="#440154"/>
<circle cx="378" cy="86.5" r="5.1" fill="#440154" stroke="#440154"/>
<circle cx="350" cy="81" r="5.1" fill="#7f7f7f" stroke="#7f7f7f"/>
<circle cx="340" cy="89" r="5.1" fill="#7f7f7f" stroke="#7f7f7f"/>
<circle cx="358.5" cy="92" r="5.1" fill="#7f7f7f" stroke="#7f7f7f"/>
<circle cx="358.5" cy="92.2" r="5.1" fill="#460b5e" stroke="#460b5e"/>
<circle cx="415" cy="81" r="5.1" fill="#440154" stroke="#440154"/>
<circle cx="415.37" cy="82.25" r="5.1" fill="#440154" stroke="#440154"/>
<circle cx="416.14" cy="80.38" r="5.1" fill="#440154" stroke="#440154"/>
<circle cx="410.5" cy="77.5" r="5.1" fill="#440154" stroke="#440154"/>
<circle cx="417" cy="89" r="5.1" fill="#440154" stroke="#440154"/>
<circle cx="422" cy="77" r="5.1" fill="#440154" stroke="#440154"/>
<circle cx="428.5" cy="83" r="5.1" fill="#440154" stroke="#440154"/>
<circle cx="435" cy="83" r="5.1" fill="#440154" stroke="#440154"/>
<circle cx="449" cy="68" r="5.1" fill="#440154" stroke="#440154"/>
<circle cx="448.92" cy="69.3" r="5.1" fill="#440154" stroke="#440154"/>
<circle cx="450.29" cy="67.81" r="5.1" fill="#440154" stroke="#440154"/>
<circle cx="453" cy="70" r="5.1" fill="#440154" stroke="#440154"/>
<circle cx="451.92" cy="70.72" r="5.1" fill="#440154" stroke="#440154"/>
<circle cx="459" cy="68" r="5.1" fill="#440154" stroke="#440154"/>
<circle cx="445" cy="61" r="5.1" fill="#440154" stroke="#440154"/>
<circle cx="458" cy="60" r="5.1" fill="#472a7a" stroke="#472a7a"/>
<circle cx="448" cy="60" r="5.1" fill="#460b5e" stroke="#460b5e"/>
<circle cx="467" cy="65" r="5.1" fill="#440154" stroke="#440154"/>
<circle cx="469.5" cy="53" r="5.1" fill="#440154" stroke="#440154"/>
<circle cx="446" cy="76" r="5.1" fill="#440154" stroke="#440154"/>
<circle cx="457" cy="80" r="5.1" fill="#472a7a" stroke="#472a7a"/>
<circle cx="459" cy="80" r="5.1" fill="#463480" stroke="#463480"/>
<circle cx="438" cy="94" r="5.1" fill="#440154" stroke="#440154"/>
<circle cx="445" cy="90" r="5.1" fill="#440154" stroke="#440154"/>
<circle cx="442" cy="92" r="5.1" fill="#440154" stroke="#440154"/>
<circle cx="441.1" cy="92.94" r="5.1" fill="#440154" stroke="#440154"/>
<circle cx="437.5" cy="101" r="5.1" fill="#440154" stroke="#440154"/>
<circle cx="455.8" cy="97" r="5.1" fill="#440154" stroke="#440154"/>
<circle cx="455.8" cy="102" r="5.1" fill="#460b5e" stroke="#460b5e"/>
<circle cx="469.5" cy="100" r="5.1" fill="#440154" stroke="#440154"/>
<circle cx="407" cy="100" r="5.1" fill="#440154" stroke="#440154"/>
<circle cx="384" cy="99" r="5.1" fill="#440154" stroke="#440154"/>
<circle cx="381.5" cy="94" r="5.1" fill="#460b5e" stroke="#460b5e"/>
<circle cx="393" cy="103.5" r="5.1" fill="#440154" stroke="#440154"/>
<circle cx="398" cy="108" r="5.1" fill="#440154" stroke="#440154"/>
<circle cx="398.47" cy="109.21" r="5.1" fill="#440154" stroke="#440154"/>
<circle cx="399.09" cy="107.29" r="5.1" fill="#440154" stroke="#440154"/>
<circle cx="387" cy="105" r="5.1" fill="#482475" stroke="#482475"/>
<circle cx="360" cy="99" r="5.1" fill="#440154" stroke="#440154"/>
<circle cx="359.75" cy="97.72" r="5.1" fill="#440154" stroke="#440154"/>
<circle cx="358.81" cy="99.51" r="5.1" fill="#440154" stroke="#440154"/>
<circle cx="361" cy="101" r="5.1" fill="#440154" stroke="#440154"/>
<circle cx="345" cy="97" r="5.1" fill="#440154" stroke="#440154"/>
<circle cx="340" cy="99.5" r="5.1" fill="#440154" stroke="#440154"/>
<circle cx="350.5" cy="105.5" r="5.1" fill="#440154" stroke="#440154"/>
<circle cx="341" cy="108" r="5.1" fill="#7f7f7f" stroke="#7f7f7f"/>
<circle cx="345" cy="115" r="5.1" fill="#440154" stroke="#440154"/>
<circle cx="332" cy="111" r="5.1" fill="#7f7f7f" stroke="#7f7f7f"/>
<circle cx="357" cy="113" r="5.1" fill="#460b5e" stroke="#460b5e"/>
<circle cx="374" cy="110.5" r="5.1" fill="#7f7f7f" stroke="#7f7f7f"/>
<circle cx="413" cy="107" r="5.1" fill="#440154" stroke="#440154"/>
<circle cx="420" cy="107" r="5.1" fill="#440154" stroke="#440154"/>
<circle cx="412" cy="112" r="5.1" fill="#440154" stroke="#440154"/>
<circle cx="428.5" cy="110" r="5.1" fill="#440154" stroke="#440154"/>
<circle cx="427.27" cy="110.41" r="5.1" fill="#440154" stroke="#440154"/>
<circle cx="440.5" cy="111.5" r="5.1" fill="#440154" stroke="#440154"/>
<circle cx="368" cy="95" r="5.1" fill="#482475" stroke="#482475"/>
<circle cx="472.6" cy="47.6" r="5.1" fill="#460b5e" stroke="#460b5e"/>
<circle cx="473.89" cy="47.41" r="5.1" fill="#460b5e" stroke="#460b5e"/>
<circle cx="483.7" cy="52.6" r="5.1" fill="#440154" stroke="#440154"/>
<circle cx="483.7" cy="52.8" r="5.1" fill="#7f7f7f" stroke="#7f7f7f"/>
<circle cx="492" cy="55" r="5.1" fill="#460b5e" stroke="#460b5e"/>
<circle cx="493" cy="58.4" r="5.1" fill="#440154" stroke="#440154"/>
<circle cx="493.98" cy="57.55" r="5.1" fill="#440154" stroke="#440154"/>
<circle cx="497.3" cy="64.4" r="5.1" fill="#481d6f" stroke="#481d6f"/>
<circle cx="496.54" cy="63.35" r="5.1" fill="#460b5e" stroke="#460b5e"/>
<circle cx="502.4" cy="63.7" r="5.1" fill="#481d6f" stroke="#481d6f"/>
<circle cx="501.28" cy="64.37" r="5.1" fill="#460b5e" stroke="#460b5e"/>
<circle cx="490.5" cy="69.5" r="5.1" fill="#440154" stroke="#440154"/>
<circle cx="491.07" cy="70.67" r="5.1" fill="#440154" stroke="#440154"/>
<circle cx="501.7" cy="73.8" r="5.1" fill="#482475" stroke="#482475"/>
<circle cx="475.8" cy="59.8" r="5.1" fill="#460b5e" stroke="#460b5e"/>
<circle cx="480.9" cy="64.4" r="5.1" fill="#460b5e" stroke="#460b5e"/>
<circle cx="476.9" cy="76.5" r="5.1" fill="#460b5e" stroke="#460b5e"/>
<circle cx="478.01" cy="77.18" r="5.1" fill="#460b5e" stroke="#460b5e"/>
<circle cx="479" cy="82.2" r="5.1" fill="#460b5e" stroke="#460b5e"/>
<circle cx="474.4" cy="80" r="5.1" fill="#460b5e" stroke="#460b5e"/>
<circle cx="478" cy="97.3" r="5.1" fill="#460b5e" stroke="#460b5e"/>
<circle cx="234" cy="118" r="5.1" fill="#7f7f7f" stroke="#7f7f7f"/>
<circle cx="250.5" cy="117.5" r="5.1" fill="#7f7f7f" stroke="#7f7f7f"/>
<circle cx="219.8" cy="124" r="5.1" fill="#7f7f7f" stroke="#7f7f7f"/>
<circle cx="216.5" cy="130" r="5.1" fill="#7f7f7f" stroke="#7f7f7f"/>
<circle cx="231.8" cy="125" r="5.1" fill="#7f7f7f" stroke="#7f7f7f"/>
<circle cx="258" cy="128" r="5.1" fill="#7f7f7f" stroke="#7f7f7f"/>
<circle cx="265" cy="135" r="5.1" fill="#7f7f7f" stroke="#7f7f7f"/>
<circle cx="275" cy="121" r="5.1" fill="#7f7f7f" stroke="#7f7f7f"/>
<circle cx="280" cy="124" r="5.1" fill="#7f7f7f" stroke="#7f7f7f"/>
<circle cx="281.23" cy="124.43" r="5.1" fill="#7f7f7f" stroke="#7f7f7f"/>
<circle cx="285" cy="127" r="5.1" fill="#7f7f7f" stroke="#7f7f7f"/>
<circle cx="285.54" cy="125.82" r="5.1" fill="#7f7f7f" stroke="#7f7f7f"/>
<circle cx="286" cy="131" r="5.1" fill="#7f7f7f" stroke="#7f7f7f"/>
<circle cx="292" cy="119" r="5.1" fill="#460b5e" stroke="#460b5e"/>
<circle cx="299" cy="117" r="5.1" fill="#460b5e" stroke="#460b5e"/>
<circle cx="299" cy="131" r="5.1" fill="#460b5e" stroke="#460b5e"/>
<circle cx="207.8" cy="141.8" r="5.1" fill="#7f7f7f" stroke="#7f7f7f"/>
<circle cx="212" cy="144.5" r="5.1" fill="#7f7f7f" stroke="#7f7f7f"/>
<circle cx="220" cy="145.5" r="5.1" fill="#7f7f7f" stroke="#7f7f7f"/>
<circle cx="228" cy="144.5" r="5.1" fill="#7f7f7f" stroke="#7f7f7f"/>
<circle cx="234" cy="141.5" r="5.1" fill="#7f7f7f" stroke="#7f7f7f"/>
<circle cx="253.5" cy="141" r="5.1" fill="#7f7f7f" stroke="#7f7f7f"/>
<circle cx="254.79" cy="141.16" r="5.1" fill="#7f7f7f" stroke="#7f7f7f"/>
<circle cx="241" cy="146" r="5.1" fill="#7f7f7f" stroke="#7f7f7f"/>
<circle cx="247" cy="146" r="5.1" fill="#7f7f7f" stroke="#7f7f7f"/>
<circle cx="271.5" cy="145.5" r="5.1" fill="#7f7f7f" stroke="#7f7f7f"/>
<circle cx="269" cy="150" r="5.1" fill="#7f7f7f" stroke="#7f7f7f"/>
<circle cx="281" cy="149" r="5.1" fill="#7f7f7f" stroke="#7f7f7f"/>
<circle cx="281" cy="149.2" r="5.1" fill="#7f7f7f" stroke="#7f7f7f"/>
<circle cx="294" cy="141.5" r="5.1" fill="#7f7f7f" stroke="#7f7f7f"/>
<circle cx="296.5" cy="143" r="5.1" fill="#440154" stroke="#440154"/>
<circle cx="295.25" cy="143.35" r="5.1" fill="#440154" stroke="#440154"/>
<circle cx="297" cy="150.5" r="5.1" fill="#7f7f7f" stroke="#7f7f7f"/>
<circle cx="297.24" cy="151.78" r="5.1" fill="#7f7f7f" stroke="#7f7f7f"/>
<circle cx="264.5" cy="154" r="5.1" fill="#7f7f7f" stroke="#7f7f7f"/>
<circle cx="264.5" cy="153.5" r="5.1" fill="#7f7f7f" stroke="#7f7f7f"/>
<circle cx="275.5" cy="156.5" r="5.1" fill="#7f7f7f" stroke="#7f7f7f"/>
<circle cx="251.5" cy="153" r="5.1" fill="#7f7f7f" stroke="#7f7f7f"/>
<circle cx="251.5" cy="152.5" r="5.1" fill="#7f7f7f" stroke="#7f7f7f"/>
<circle cx="236" cy="151" r="5.1" fill="#7f7f7f" stroke="#7f7f7f"/>
<circle cx="236.5" cy="151" r="5.1" fill="#7f7f7f" stroke="#7f7f7f"/>
<circle cx="247" cy="154" r="5.1" fill="#460b5e" stroke="#460b5e"/>
<circle cx="205" cy="155.5" r="5.1" fill="#7f7f7f" stroke="#7f7f7f"/>
<circle cx="207" cy="160.5" r="5.1" fill="#7f7f7f" stroke="#7f7f7f"/>
<circle cx="202" cy="168.5" r="5.1" fill="#7f7f7f" stroke="#7f7f7f"/>
<circle cx="208.5" cy="176" r="5.1" fill="#7f7f7f" stroke="#7f7f7f"/>
<circle cx="225" cy="170.5" r="5.1" fill="#7f7f7f" stroke="#7f7f7f"/>
<circle cx="250.5" cy="147" r="5.1" fill="#7f7f7f" stroke="#7f7f7f"/>
<circle cx="210" cy="157" r="5.1" fill="#7f7f7f" stroke="#7f7f7f"/>
<circle cx="198.5" cy="162.5" r="5.1" fill="#7f7f7f" stroke="#7f7f7f"/>
<circle cx="204" cy="163" r="5.1" fill="#7f7f7f" stroke="#7f7f7f"/>
<circle cx="205.07" cy="163.74" r="5.1" fill="#7f7f7f" stroke="#7f7f7f"/>
<circle cx="216" cy="149" r="5.1" fill="#7f7f7f" stroke="#7f7f7f"/>
<circle cx="220" cy="154" r="5.1" fill="#7f7f7f" stroke="#7f7f7f"/>
<circle cx="220.06" cy="155.3" r="5.1" fill="#7f7f7f" stroke="#7f7f7f"/>
<circle cx="228" cy="156" r="5.1" fill="#7f7f7f" stroke="#7f7f7f"/>
<circle cx="230" cy="154.5" r="5.1" fill="#472a7a" stroke="#472a7a"/>
<circle cx="222" cy="161" r="5.1" fill="#7f7f7f" stroke="#7f7f7f"/>
<circle cx="222.16" cy="159.71" r="5.1" fill="#7f7f7f" stroke="#7f7f7f"/>
<circle cx="212" cy="166" r="5.1" fill="#7f7f7f" stroke="#7f7f7f"/>
<circle cx="205" cy="171" r="5.1" fill="#7f7f7f" stroke="#7f7f7f"/>
<circle cx="206.12" cy="170.34" r="5.1" fill="#7f7f7f" stroke="#7f7f7f"/>
<circle cx="210" cy="172" r="5.1" fill="#7f7f7f" stroke="#7f7f7f"/>
<circle cx="234" cy="155" r="5.1" fill="#7f7f7f" stroke="#7f7f7f"/>
<circle cx="173.5" cy="165.2" r="5.1" fill="#7f7f7f" stroke="#7f7f7f"/>
<circle cx="240" cy="162.5" r="5.1" fill="#7f7f7f" stroke="#7f7f7f"/>
<circle cx="240.6" cy="161.34" r="5.1" fill="#7f7f7f" stroke="#7f7f7f"/>
<circle cx="248" cy="161.5" r="5.1" fill="#460b5e" stroke="#460b5e"/>
<circle cx="260" cy="165" r="5.1" fill="#7f7f7f" stroke="#7f7f7f"/>
<circle cx="264" cy="170.5" r="5.1" fill="#7f7f7f" stroke="#7f7f7f"/>
<circle cx="254" cy="168" r="5.1" fill="#7f7f7f" stroke="#7f7f7f"/>
<circle cx="253.88" cy="166.71" r="5.1" fill="#7f7f7f" stroke="#7f7f7f"/>
<circle cx="249" cy="171" r="5.1" fill="#7f7f7f" stroke="#7f7f7f"/>
<circle cx="232" cy="169" r="5.1" fill="#7f7f7f" stroke="#7f7f7f"/>
<circle cx="239" cy="167" r="5.1" fill="#482475" stroke="#482475"/>
<circle cx="262" cy="166" r="5.1" fill="#7f7f7f" stroke="#7f7f7f"/>
<circle cx="261.21" cy="164.97" r="5.1" fill="#7f7f7f" stroke="#7f7f7f"/>
<circle cx="272.5" cy="165" r="5.1" fill="#7f7f7f" stroke="#7f7f7f"/>
<circle cx="271.41" cy="165.7" r="5.1" fill="#7f7f7f" stroke="#7f7f7f"/>
<circle cx="263.5" cy="174" r="5.1" fill="#7f7f7f" stroke="#7f7f7f"/>
<circle cx="256" cy="176" r="5.1" fill="#7f7f7f" stroke="#7f7f7f"/>
<circle cx="216.5" cy="174.5" r="5.1" fill="#7f7f7f" stroke="#7f7f7f"/>
<circle cx="211.5" cy="182.5" r="5.1" fill="#7f7f7f" stroke="#7f7f7f"/>
<circle cx="205" cy="180.5" r="5.1" fill="#7f7f7f" stroke="#7f7f7f"/>
<circle cx="224.5" cy="182" r="5.1" fill="#7f7f7f" stroke="#7f7f7f"/>
<circle cx="236" cy="181" r="5.1" fill="#7f7f7f" stroke="#7f7f7f"/>
<circle cx="234.73" cy="181.28" r="5.1" fill="#7f7f7f" stroke="#7f7f7f"/>
<circle cx="243" cy="181.5" r="5.1" fill="#7f7f7f" stroke="#7f7f7f"/>
<circle cx="243.17" cy="182.79" r="5.1" fill="#7f7f7f" stroke="#7f7f7f"/>
<circle cx="232" cy="187" r="5.1" fill="#7f7f7f" stroke="#7f7f7f"/>
<circle cx="287.2" cy="172.5" r="5.1" fill="#7f7f7f" stroke="#7f7f7f"/>
<circle cx="287.5" cy="184" r="5.1" fill="#7f7f7f" stroke="#7f7f7f"/>
<circle cx="289" cy="189" r="5.1" fill="#7f7f7f" stroke="#7f7f7f"/>
<circle cx="262" cy="187" r="5.1" fill="#7f7f7f" stroke="#7f7f7f"/>
<circle cx="196" cy="182.5" r="5.1" fill="#7f7f7f" stroke="#7f7f7f"/>
<circle cx="195.5" cy="188" r="5.1" fill="#7f7f7f" stroke="#7f7f7f"/>
<circle cx="195.22" cy="189.27" r="5.1" fill="#7f7f7f" stroke="#7f7f7f"/>
<circle cx="185" cy="192.2" r="5.1" fill="#7f7f7f" stroke="#7f7f7f"/>
<circle cx="195.5" cy="197" r="5.1" fill="#7f7f7f" stroke="#7f7f7f"/>
<circle cx="194.32" cy="197.55" r="5.1" fill="#7f7f7f" stroke="#7f7f7f"/>
<circle cx="208" cy="198" r="5.1" fill="#7f7f7f" stroke="#7f7f7f"/>
<circle cx="219" cy="193" r="5.1" fill="#7f7f7f" stroke="#7f7f7f"/>
<circle cx="217.85" cy="192.4" r="5.1" fill="#7f7f7f" stroke="#7f7f7f"/>
<circle cx="217.5" cy="199" r="5.1" fill="#7f7f7f" stroke="#7f7f7f"/>
<circle cx="239" cy="195.5" r="5.1" fill="#7f7f7f" stroke="#7f7f7f"/>
<circle cx="249" cy="198" r="5.1" fill="#7f7f7f" stroke="#7f7f7f"/>
<circle cx="249" cy="201" r="5.1" fill="#7f7f7f" stroke="#7f7f7f"/>
<circle cx="265" cy="195.5" r="5.1" fill="#7f7f7f" stroke="#7f7f7f"/>
<circle cx="277.5" cy="194" r="5.1" fill="#7f7f7f" stroke="#7f7f7f"/>
<circle cx="277.5" cy="195.3" r="5.1" fill="#7f7f7f" stroke="#7f7f7f"/>
<circle cx="264.5" cy="201" r="5.1" fill="#7f7f7f" stroke="#7f7f7f"/>
<circle cx="307" cy="126" r="5.1" fill="#460b5e" stroke="#460b5e"/>
<circle cx="303" cy="122" r="5.1" fill="#460b5e" stroke="#460b5e"/>
<circle cx="303" cy="138.5" r="5.1" fill="#7f7f7f" stroke="#7f7f7f"/>
<circle cx="306" cy="146" r="5.1" fill="#440154" stroke="#440154"/>
<circle cx="304.75" cy="145.66" r="5.1" fill="#440154" stroke="#440154"/>
<circle cx="308" cy="153" r="5.1" fill="#7f7f7f" stroke="#7f7f7f"/>
<circle cx="307.55" cy="154.22" r="5.1" fill="#7f7f7f" stroke="#7f7f7f"/>
<circle cx="315" cy="149" r="5.1" fill="#440154" stroke="#440154"/>
<circle cx="324.5" cy="128.5" r="5.1" fill="#440154" stroke="#440154"/>
<circle cx="323.26" cy="128.89" r="5.1" fill="#440154" stroke="#440154"/>
<circle cx="325.5" cy="144" r="5.1" fill="#460b5e" stroke="#460b5e"/>
<circle cx="317.5" cy="156" r="5.1" fill="#7f7f7f" stroke="#7f7f7f"/>
<circle cx="333" cy="125.5" r="5.1" fill="#7f7f7f" stroke="#7f7f7f"/>
<circle cx="339.5" cy="141.5" r="5.1" fill="#460b5e" stroke="#460b5e"/>
<circle cx="341" cy="134" r="5.1" fill="#7f7f7f" stroke="#7f7f7f"/>
<circle cx="340.95" cy="132.7" r="5.1" fill="#7f7f7f" stroke="#7f7f7f"/>
<circle cx="340" cy="127" r="5.1" fill="#440154" stroke="#440154"/>
<circle cx="338.7" cy="126.94" r="5.1" fill="#440154" stroke="#440154"/>
<circle cx="344" cy="120" r="5.1" fill="#440154" stroke="#440154"/>
<circle cx="343.82" cy="121.29" r="5.1" fill="#440154" stroke="#440154"/>
<circle cx="349" cy="125" r="5.1" fill="#440154" stroke="#440154"/>
<circle cx="350.27" cy="125.29" r="5.1" fill="#440154" stroke="#440154"/>
<circle cx="356" cy="127" r="5.1" fill="#7f7f7f" stroke="#7f7f7f"/>
<circle cx="358" cy="121" r="5.1" fill="#7f7f7f" stroke="#7f7f7f"/>
<circle cx="360" cy="127" r="5.1" fill="#471365" stroke="#471365"/>
<circle cx="358.5" cy="140.5" r="5.1" fill="#440154" stroke="#440154"/>
<circle cx="372" cy="124" r="5.1" fill="#440154" stroke="#440154"/>
<circle cx="371.39" cy="125.15" r="5.1" fill="#440154" stroke="#440154"/>
<circle cx="383" cy="122" r="5.1" fill="#440154" stroke="#440154"/>
<circle cx="384.09" cy="122.7" r="5.1" fill="#440154" stroke="#440154"/>
<circle cx="393" cy="123.5" r="5.1" fill="#7f7f7f" stroke="#7f7f7f"/>
<circle cx="373.5" cy="138" r="5.1" fill="#440154" stroke="#440154"/>
<circle cx="373.61" cy="139.3" r="5.1" fill="#440154" stroke="#440154"/>
<circle cx="387" cy="136" r="5.1" fill="#460b5e" stroke="#460b5e"/>
<circle cx="388.3" cy="136.01" r="5.1" fill="#460b5e" stroke="#460b5e"/>
<circle cx="381" cy="137" r="5.1" fill="#21918c" stroke="#21918c"/>
<circle cx="390" cy="141" r="5.1" fill="#460b5e" stroke="#460b5e"/>
<circle cx="389" cy="147" r="5.1" fill="#463480" stroke="#463480"/>
<circle cx="378" cy="149" r="5.1" fill="#460b5e" stroke="#460b5e"/>
<circle cx="397.5" cy="137.5" r="5.1" fill="#440154" stroke="#440154"/>
<circle cx="397.15" cy="138.75" r="5.1" fill="#440154" stroke="#440154"/>
<circle cx="404" cy="140.5" r="5.1" fill="#440154" stroke="#440154"/>
<circle cx="403" cy="127" r="5.1" fill="#7f7f7f" stroke="#7f7f7f"/>
<circle cx="406" cy="127" r="5.1" fill="#7f7f7f" stroke="#7f7f7f"/>
<circle cx="414" cy="128" r="5.1" fill="#7f7f7f" stroke="#7f7f7f"/>
<circle cx="413" cy="122" r="5.1" fill="#7f7f7f" stroke="#7f7f7f"/>
<circle cx="413" cy="122.2" r="5.1" fill="#460b5e" stroke="#460b5e"/>
<circle cx="420" cy="113" r="5.1" fill="#7f7f7f" stroke="#7f7f7f"/>
<circle cx="432" cy="118" r="5.1" fill="#460b5e" stroke="#460b5e"/>
<circle cx="439.5" cy="124.5" r="5.1" fill="#440154" stroke="#440154"/>
<circle cx="354" cy="155.5" r="5.1" fill="#7f7f7f" stroke="#7f7f7f"/>
<circle cx="357" cy="154.5" r="5.1" fill="#7f7f7f" stroke="#7f7f7f"/>
<circle cx="359.2" cy="155.2" r="5.1" fill="#7f7f7f" stroke="#7f7f7f"/>
<circle cx="342.5" cy="160.5" r="5.1" fill="#7f7f7f" stroke="#7f7f7f"/>
<circle cx="341" cy="171.5" r="5.1" fill="#7f7f7f" stroke="#7f7f7f"/>
<circle cx="342.29" cy="171.68" r="5.1" fill="#7f7f7f" stroke="#7f7f7f"/>
<circle cx="341.5" cy="173.2" r="5.1" fill="#7f7f7f" stroke="#7f7f7f"/>
<circle cx="374" cy="165.8" r="5.1" fill="#fde725" stroke="#fde725"/>
<circle cx="365.5" cy="172" r="5.1" fill="#7f7f7f" stroke="#7f7f7f"/>
<circle cx="307" cy="175" r="5.1" fill="#7f7f7f" stroke="#7f7f7f"/>
<circle cx="308.18" cy="174.46" r="5.1" fill="#7f7f7f" stroke="#7f7f7f"/>
<circle cx="325.5" cy="178" r="5.1" fill="#7f7f7f" stroke="#7f7f7f"/>
<circle cx="329.5" cy="177" r="5.1" fill="#7f7f7f" stroke="#7f7f7f"/>
<circle cx="333.5" cy="183.5" r="5.1" fill="#7f7f7f" stroke="#7f7f7f"/>
<circle cx="303" cy="186" r="5.1" fill="#7f7f7f" stroke="#7f7f7f"/>
<circle cx="443.3" cy="124.5" r="5.1" fill="#440154" stroke="#440154"/>
<circle cx="208" cy="204.5" r="5.1" fill="#7f7f7f" stroke="#7f7f7f"/>
<circle cx="200" cy="207" r="5.1" fill="#7f7f7f" stroke="#7f7f7f"/>
<circle cx="272" cy="205" r="5.1" fill="#7f7f7f" stroke="#7f7f7f"/>
<circle cx="191" cy="215" r="5.1" fill="#7f7f7f" stroke="#7f7f7f"/>
<circle cx="191.01" cy="213.7" r="5.1" fill="#7f7f7f" stroke="#7f7f7f"/>
<circle cx="192" cy="213.2" r="5.1" fill="#7f7f7f" stroke="#7f7f7f"/>
<circle cx="207" cy="212.5" r="5.1" fill="#7f7f7f" stroke="#7f7f7f"/>
<circle cx="210" cy="212" r="5.1" fill="#7f7f7f" stroke="#7f7f7f"/>
<circle cx="197.5" cy="219.5" r="5.1" fill="#7f7f7f" stroke="#7f7f7f"/>
<circle cx="217.5" cy="215" r="5.1" fill="#7f7f7f" stroke="#7f7f7f"/>
<circle cx="218.75" cy="215.35" r="5.1" fill="#7f7f7f" stroke="#7f7f7f"/>
<circle cx="227" cy="211.8" r="5.1" fill="#7f7f7f" stroke="#7f7f7f"/>
<circle cx="240.5" cy="213.5" r="5.1" fill="#7f7f7f" stroke="#7f7f7f"/>
<circle cx="252" cy="215.8" r="5.1" fill="#7f7f7f" stroke="#7f7f7f"/>
<circle cx="288.8" cy="211.8" r="5.1" fill="#7f7f7f" stroke="#7f7f7f"/>
<circle cx="180.5" cy="223" r="5.1" fill="#7f7f7f" stroke="#7f7f7f"/>
<circle cx="185.5" cy="227" r="5.1" fill="#7f7f7f" stroke="#7f7f7f"/>
<circle cx="187.2" cy="232.5" r="5.1" fill="#7f7f7f" stroke="#7f7f7f"/>
<circle cx="255" cy="228.5" r="5.1" fill="#7f7f7f" stroke="#7f7f7f"/>
<circle cx="264" cy="237.5" r="5.1" fill="#7f7f7f" stroke="#7f7f7f"/>
<circle cx="257" cy="244" r="5.1" fill="#7f7f7f" stroke="#7f7f7f"/>
<circle cx="227.5" cy="235.5" r="5.1" fill="#7f7f7f" stroke="#7f7f7f"/>
<circle cx="232.5" cy="240.5" r="5.1" fill="#7f7f7f" stroke="#7f7f7f"/>
<circle cx="233.8" cy="240.57" r="5.1" fill="#7f7f7f" stroke="#7f7f7f"/>
<circle cx="230.5" cy="245.5" r="5.1" fill="#7f7f7f" stroke="#7f7f7f"/>
<circle cx="354.3" cy="83.3" r="5.1" fill="#440154" stroke="#440154"/>
<circle cx="349.1" cy="106.4" r="5.1" fill="#440154" stroke="#440154"/>
<circle cx="362.4" cy="102.4" r="5.1" fill="#440154" stroke="#440154"/>
<circle cx="371.6" cy="88.5" r="5.1" fill="#440154" stroke="#440154"/>
<circle cx="377.4" cy="52" r="5.1" fill="#460b5e" stroke="#460b5e"/>
<circle cx="329.5" cy="67" r="5.1" fill="#7f7f7f" stroke="#7f7f7f"/>
<circle cx="239.5" cy="169.5" r="5.1" fill="#482475" stroke="#482475"/>
<circle cx="253" cy="160" r="5.1" fill="#481d6f" stroke="#481d6f"/>
<circle cx="420" cy="118" r="5.1" fill="#7f7f7f" stroke="#7f7f7f"/>
<circle cx="458" cy="60.9" r="5.1" fill="#472a7a" stroke="#472a7a"/>
<circle cx="418" cy="64" r="5.1" fill="#440154" stroke="#440154"/>
<circle cx="417" cy="73" r="5.1" fill="#440154" stroke="#440154"/>
<circle cx="394" cy="104" r="5.1" fill="#440154" stroke="#440154"/>
<circle cx="400" cy="109" r="5.1" fill="#440154" stroke="#440154"/>
<circle cx="431" cy="106" r="5.1" fill="#482475" stroke="#482475"/>
<circle cx="440" cy="98" r="5.1" fill="#440154" stroke="#440154"/>
<circle cx="450" cy="50" r="5.1" fill="#440154" stroke="#440154"/>
<circle cx="455" cy="45" r="5.1" fill="#440154" stroke="#440154"/>
<circle cx="448" cy="65" r="5.1" fill="#440154" stroke="#440154"/>
<circle cx="354" cy="80" r="5.1" fill="#440154" stroke="#440154"/>
<circle cx="399" cy="54" r="5.1" fill="#440154" stroke="#440154"/>
</g>
<path class="tr" d="M97.6,28.5 L333.1,119.4 L375,151.8 L452.8,210.1"/>
<path class="tr" d="M333.1,119.4 L190.8,338.5"/>
<text transform="translate(310.1,146.1) scale(1,1.02)" text-anchor="middle" style="font-size:37.9px">3</text>
<path class="ax" d="M77.55,12 V354.2 H523.8"/>
<path class="ax" d="M71,81.15 H77.5"/>
<text class="tk" transform="translate(64.4,89) scale(1,1.05)" text-anchor="end">1</text>
<path class="ax" d="M71,157.3 H77.5"/>
<text class="tk" transform="translate(64.4,165) scale(1,1.05)" text-anchor="end">0</text>
<path class="ax" d="M71,233.45 H77.5"/>
<text class="tk" transform="translate(64.4,242) scale(1,1.05)" text-anchor="end">-1</text>
<path class="ax" d="M71,309.6 H77.5"/>
<text class="tk" transform="translate(64.4,318) scale(1,1.05)" text-anchor="end">-2</text>
<path class="ax" d="M184.6,354.2 V360.8"/>
<text class="tk" transform="translate(183.8,382) scale(1,1.05)" text-anchor="middle">-11</text>
<path class="ax" d="M337.75,354.2 V360.8"/>
<text class="tk" transform="translate(337.95,382) scale(1,1.05)" text-anchor="middle">-10</text>
<path class="ax" d="M490.95,354.2 V360.8"/>
<text class="tk" transform="translate(491.25,382) scale(1,1.05)" text-anchor="middle">-9</text>
<text class="ti" transform="translate(299.8,413) scale(1,1.05)" text-anchor="middle">UMAP 1</text>
<text class="ti" transform="translate(32.3,183.7) rotate(-90) scale(1,1.05)" text-anchor="middle">UMAP 2</text>
<text class="ti" transform="translate(548.7,112.8) scale(1,1.05)">pseudotime</text>
<rect x="548.9" y="129.9" width="29.3" height="145.5" fill="url(#vg)"/>
<path class="lt" d="M548.9,275.4 h5.9 M572.3,275.4 h5.9"/>
<text class="tk" transform="translate(592,284) scale(1,1.05)">0</text>
<path class="lt" d="M548.9,239.1 h5.9 M572.3,239.1 h5.9"/>
<text class="tk" transform="translate(592,247) scale(1,1.05)">4</text>
<path class="lt" d="M548.9,202.8 h5.9 M572.3,202.8 h5.9"/>
<text class="tk" transform="translate(592,211) scale(1,1.05)">8</text>
<path class="lt" d="M548.9,166.5 h5.9 M572.3,166.5 h5.9"/>
<text class="tk" transform="translate(592,175) scale(1,1.05)">12</text>
<path class="lt" d="M548.9,130.2 h5.9 M572.3,130.2 h5.9"/>
<text class="tk" transform="translate(592,138) scale(1,1.05)">16</text>
</g>
<g transform="translate(0,432.5)">
<g class="p">
<circle cx="205.3" cy="78.8" r="5.1" fill="#b0dd2f" stroke="#b0dd2f"/>
<circle cx="227.8" cy="66.5" r="5.1" fill="#fde725" stroke="#fde725"/>
<circle cx="230.8" cy="63" r="5.1" fill="#fde725" stroke="#fde725"/>
<circle cx="298.3" cy="61.8" r="5.1" fill="#375a8c" stroke="#375a8c"/>
<circle cx="322.5" cy="62.2" r="5.1" fill="#472a7a" stroke="#472a7a"/>
<circle cx="268.5" cy="72" r="5.1" fill="#2c738e" stroke="#2c738e"/>
<circle cx="279.5" cy="68" r="5.1" fill="#25848e" stroke="#25848e"/>
<circle cx="283.5" cy="68.5" r="5.1" fill="#228b8d" stroke="#228b8d"/>
<circle cx="274.5" cy="74" r="5.1" fill="#460b5e" stroke="#460b5e"/>
<circle cx="272" cy="77.5" r="5.1" fill="#375a8c" stroke="#375a8c"/>
<circle cx="258" cy="80" r="5.1" fill="#463480" stroke="#463480"/>
<circle cx="256.5" cy="83" r="5.1" fill="#4ec36b" stroke="#4ec36b"/>
<circle cx="267" cy="85.5" r="5.1" fill="#2f6c8e" stroke="#2f6c8e"/>
<circle cx="277" cy="84" r="5.1" fill="#1e9c89" stroke="#1e9c89"/>
<circle cx="281" cy="84.8" r="5.1" fill="#355f8d" stroke="#355f8d"/>
<circle cx="285" cy="84.8" r="5.1" fill="#375a8c" stroke="#375a8c"/>
<circle cx="288.5" cy="84.5" r="5.1" fill="#471365" stroke="#471365"/>
<circle cx="292.5" cy="84.3" r="5.1" fill="#460b5e" stroke="#460b5e"/>
<circle cx="320" cy="78.8" r="5.1" fill="#440154" stroke="#440154"/>
<circle cx="325" cy="89.5" r="5.1" fill="#440154" stroke="#440154"/>
<circle cx="321" cy="101" r="5.1" fill="#440154" stroke="#440154"/>
<circle cx="329.5" cy="98" r="5.1" fill="#440154" stroke="#440154"/>
<circle cx="323.5" cy="113.5" r="5.1" fill="#440154" stroke="#440154"/>
<circle cx="239" cy="99.5" r="5.1" fill="#414487" stroke="#414487"/>
<circle cx="244.5" cy="101.5" r="5.1" fill="#375a8c" stroke="#375a8c"/>
<circle cx="250" cy="97" r="5.1" fill="#2f6c8e" stroke="#2f6c8e"/>
<circle cx="254" cy="95.5" r="5.1" fill="#2a788e" stroke="#2a788e"/>
<circle cx="248" cy="103.5" r="5.1" fill="#375a8c" stroke="#375a8c"/>
<circle cx="244" cy="107" r="5.1" fill="#3b528b" stroke="#3b528b"/>
<circle cx="250" cy="109" r="5.1" fill="#21918c" stroke="#21918c"/>
<circle cx="256.5" cy="108" r="5.1" fill="#3e4989" stroke="#3e4989"/>
<circle cx="264" cy="103" r="5.1" fill="#22a884" stroke="#22a884"/>
<circle cx="264.5" cy="95.5" r="5.1" fill="#463480" stroke="#463480"/>
<circle cx="290" cy="99" r="5.1" fill="#472a7a" stroke="#472a7a"/>
<circle cx="300.5" cy="105.5" r="5.1" fill="#21918c" stroke="#21918c"/>
<circle cx="311.5" cy="99.5" r="5.1" fill="#46085c" stroke="#46085c"/>
<circle cx="285" cy="110" r="5.1" fill="#2f6c8e" stroke="#2f6c8e"/>
<circle cx="297" cy="111.5" r="5.1" fill="#3b528b" stroke="#3b528b"/>
<circle cx="301" cy="113" r="5.1" fill="#414487" stroke="#414487"/>
<circle cx="271.5" cy="110" r="5.1" fill="#7f7f7f" stroke="#7f7f7f"/>
<circle cx="271.5" cy="110.2" r="5.1" fill="#7f7f7f" stroke="#7f7f7f"/>
<circle cx="314" cy="107" r="5.1" fill="#460b5e" stroke="#460b5e"/>
<circle cx="451.5" cy="37.5" r="5.1" fill="#7f7f7f" stroke="#7f7f7f"/>
<circle cx="457" cy="44" r="5.1" fill="#7f7f7f" stroke="#7f7f7f"/>
<circle cx="464" cy="46" r="5.1" fill="#7f7f7f" stroke="#7f7f7f"/>
<circle cx="440" cy="49" r="5.1" fill="#7f7f7f" stroke="#7f7f7f"/>
<circle cx="447" cy="46.5" r="5.1" fill="#7f7f7f" stroke="#7f7f7f"/>
<circle cx="446.7" cy="47.77" r="5.1" fill="#7f7f7f" stroke="#7f7f7f"/>
<circle cx="453" cy="46" r="5.1" fill="#7f7f7f" stroke="#7f7f7f"/>
<circle cx="454.23" cy="46.41" r="5.1" fill="#7f7f7f" stroke="#7f7f7f"/>
<circle cx="456" cy="50" r="5.1" fill="#7f7f7f" stroke="#7f7f7f"/>
<circle cx="456.51" cy="48.81" r="5.1" fill="#7f7f7f" stroke="#7f7f7f"/>
<circle cx="440" cy="49.5" r="5.1" fill="#7f7f7f" stroke="#7f7f7f"/>
<circle cx="437.5" cy="47.5" r="5.1" fill="#7f7f7f" stroke="#7f7f7f"/>
<circle cx="417" cy="49.5" r="5.1" fill="#440154" stroke="#440154"/>
<circle cx="424.5" cy="55.5" r="5.1" fill="#7f7f7f" stroke="#7f7f7f"/>
<circle cx="408.5" cy="51.5" r="5.1" fill="#7f7f7f" stroke="#7f7f7f"/>
<circle cx="401.5" cy="53.5" r="5.1" fill="#440154" stroke="#440154"/>
<circle cx="400.2" cy="53.6" r="5.1" fill="#440154" stroke="#440154"/>
<circle cx="404" cy="57" r="5.1" fill="#440154" stroke="#440154"/>
<circle cx="403.98" cy="58.3" r="5.1" fill="#440154" stroke="#440154"/>
<circle cx="370.5" cy="50" r="5.1" fill="#440154" stroke="#440154"/>
<circle cx="377" cy="49.5" r="5.1" fill="#482475" stroke="#482475"/>
<circle cx="382" cy="48.5" r="5.1" fill="#7f7f7f" stroke="#7f7f7f"/>
<circle cx="387" cy="52" r="5.1" fill="#7f7f7f" stroke="#7f7f7f"/>
<circle cx="378" cy="54" r="5.1" fill="#7f7f7f" stroke="#7f7f7f"/>
<circle cx="376" cy="58.5" r="5.1" fill="#440154" stroke="#440154"/>
<circle cx="362" cy="55.5" r="5.1" fill="#375a8c" stroke="#375a8c"/>
<circle cx="351.5" cy="63.5" r="5.1" fill="#471365" stroke="#471365"/>
<circle cx="360" cy="63.5" r="5.1" fill="#482475" stroke="#482475"/>
<circle cx="361.5" cy="65.5" r="5.1" fill="#472a7a" stroke="#472a7a"/>
<circle cx="388.5" cy="63.5" r="5.1" fill="#375a8c" stroke="#375a8c"/>
<circle cx="332" cy="66.5" r="5.1" fill="#472a7a" stroke="#472a7a"/>
<circle cx="348" cy="70.8" r="5.1" fill="#440154" stroke="#440154"/>
<circle cx="335" cy="75" r="5.1" fill="#440154" stroke="#440154"/>
<circle cx="337" cy="81" r="5.1" fill="#440154" stroke="#440154"/>
<circle cx="357" cy="77" r="5.1" fill="#440154" stroke="#440154"/>
<circle cx="356" cy="81" r="5.1" fill="#440154" stroke="#440154"/>
<circle cx="356.9" cy="81.93" r="5.1" fill="#440154" stroke="#440154"/>
<circle cx="363" cy="82" r="5.1" fill="#440154" stroke="#440154"/>
<circle cx="381.5" cy="72" r="5.1" fill="#440154" stroke="#440154"/>
<circle cx="381.31" cy="73.29" r="5.1" fill="#440154" stroke="#440154"/>
<circle cx="386" cy="70" r="5.1" fill="#7f7f7f" stroke="#7f7f7f"/>
<circle cx="399" cy="67.5" r="5.1" fill="#7f7f7f" stroke="#7f7f7f"/>
<circle cx="436.8" cy="62" r="5.1" fill="#7f7f7f" stroke="#7f7f7f"/>
<circle cx="407" cy="70" r="5.1" fill="#355f8d" stroke="#355f8d"/>
<circle cx="403.5" cy="78" r="5.1" fill="#7f7f7f" stroke="#7f7f7f"/>
<circle cx="400" cy="76" r="5.1" fill="#7f7f7f" stroke="#7f7f7f"/>
<circle cx="418.5" cy="67" r="5.1" fill="#440154" stroke="#440154"/>
<circle cx="417.88" cy="68.14" r="5.1" fill="#440154" stroke="#440154"/>
<circle cx="420.5" cy="68.5" r="5.1" fill="#7f7f7f" stroke="#7f7f7f"/>
<circle cx="409" cy="59" r="5.1" fill="#440154" stroke="#440154"/>
<circle cx="413" cy="59.5" r="5.1" fill="#440154" stroke="#440154"/>
<circle cx="429" cy="65" r="5.1" fill="#7f7f7f" stroke="#7f7f7f"/>
<circle cx="428.5" cy="65.5" r="5.1" fill="#440154" stroke="#440154"/>
<circle cx="390" cy="76.5" r="5.1" fill="#7f7f7f" stroke="#7f7f7f"/>
<circle cx="395" cy="76" r="5.1" fill="#7f7f7f" stroke="#7f7f7f"/>
<circle cx="373" cy="79" r="5.1" fill="#7f7f7f" stroke="#7f7f7f"/>
<circle cx="372.5" cy="80" r="5.1" fill="#7f7f7f" stroke="#7f7f7f"/>
<circle cx="371" cy="88.5" r="5.1" fill="#440154" stroke="#440154"/>
<circle cx="369.72" cy="88.25" r="5.1" fill="#440154" stroke="#440154"/>
<circle cx="378" cy="86.5" r="5.1" fill="#440154" stroke="#440154"/>
<circle cx="350" cy="81" r="5.1" fill="#46085c" stroke="#46085c"/>
<circle cx="340" cy="89" r="5.1" fill="#460b5e" stroke="#460b5e"/>
<circle cx="358.5" cy="92" r="5.1" fill="#440154" stroke="#440154"/>
<circle cx="358.5" cy="92.2" r="5.1" fill="#46085c" stroke="#46085c"/>
<circle cx="415" cy="81" r="5.1" fill="#440154" stroke="#440154"/>
<circle cx="415.37" cy="82.25" r="5.1" fill="#440154" stroke="#440154"/>
<circle cx="416.14" cy="80.38" r="5.1" fill="#440154" stroke="#440154"/>
<circle cx="410.5" cy="77.5" r="5.1" fill="#440154" stroke="#440154"/>
<circle cx="417" cy="89" r="5.1" fill="#440154" stroke="#440154"/>
<circle cx="422" cy="77" r="5.1" fill="#440154" stroke="#440154"/>
<circle cx="428.5" cy="83" r="5.1" fill="#440154" stroke="#440154"/>
<circle cx="435" cy="83" r="5.1" fill="#440154" stroke="#440154"/>
<circle cx="449" cy="68" r="5.1" fill="#440154" stroke="#440154"/>
<circle cx="448.92" cy="69.3" r="5.1" fill="#440154" stroke="#440154"/>
<circle cx="450.29" cy="67.81" r="5.1" fill="#440154" stroke="#440154"/>
<circle cx="453" cy="70" r="5.1" fill="#440154" stroke="#440154"/>
<circle cx="451.92" cy="70.72" r="5.1" fill="#440154" stroke="#440154"/>
<circle cx="459" cy="68" r="5.1" fill="#440154" stroke="#440154"/>
<circle cx="445" cy="61" r="5.1" fill="#440154" stroke="#440154"/>
<circle cx="458" cy="60" r="5.1" fill="#7f7f7f" stroke="#7f7f7f"/>
<circle cx="448" cy="60" r="5.1" fill="#7f7f7f" stroke="#7f7f7f"/>
<circle cx="467" cy="65" r="5.1" fill="#440154" stroke="#440154"/>
<circle cx="469.5" cy="53" r="5.1" fill="#440154" stroke="#440154"/>
<circle cx="446" cy="76" r="5.1" fill="#440154" stroke="#440154"/>
<circle cx="453" cy="83" r="5.1" fill="#7f7f7f" stroke="#7f7f7f"/>
<circle cx="457" cy="80" r="5.1" fill="#7f7f7f" stroke="#7f7f7f"/>
<circle cx="438" cy="94" r="5.1" fill="#440154" stroke="#440154"/>
<circle cx="445" cy="90" r="5.1" fill="#440154" stroke="#440154"/>
<circle cx="442" cy="92" r="5.1" fill="#440154" stroke="#440154"/>
<circle cx="441.1" cy="92.94" r="5.1" fill="#440154" stroke="#440154"/>
<circle cx="437.5" cy="101" r="5.1" fill="#440154" stroke="#440154"/>
<circle cx="455.8" cy="97" r="5.1" fill="#440154" stroke="#440154"/>
<circle cx="455.8" cy="102" r="5.1" fill="#7f7f7f" stroke="#7f7f7f"/>
<circle cx="469.5" cy="100" r="5.1" fill="#440154" stroke="#440154"/>
<circle cx="407" cy="100" r="5.1" fill="#440154" stroke="#440154"/>
<circle cx="384" cy="99" r="5.1" fill="#440154" stroke="#440154"/>
<circle cx="381.5" cy="94" r="5.1" fill="#7f7f7f" stroke="#7f7f7f"/>
<circle cx="393" cy="103.5" r="5.1" fill="#440154" stroke="#440154"/>
<circle cx="398" cy="108" r="5.1" fill="#440154" stroke="#440154"/>
<circle cx="398.47" cy="109.21" r="5.1" fill="#440154" stroke="#440154"/>
<circle cx="399.09" cy="107.29" r="5.1" fill="#440154" stroke="#440154"/>
<circle cx="387" cy="107" r="5.1" fill="#7f7f7f" stroke="#7f7f7f"/>
<circle cx="360" cy="99" r="5.1" fill="#440154" stroke="#440154"/>
<circle cx="359.75" cy="97.72" r="5.1" fill="#440154" stroke="#440154"/>
<circle cx="358.81" cy="99.51" r="5.1" fill="#440154" stroke="#440154"/>
<circle cx="361" cy="101" r="5.1" fill="#440154" stroke="#440154"/>
<circle cx="345" cy="97" r="5.1" fill="#440154" stroke="#440154"/>
<circle cx="340" cy="99.5" r="5.1" fill="#440154" stroke="#440154"/>
<circle cx="350.5" cy="105.5" r="5.1" fill="#440154" stroke="#440154"/>
<circle cx="341" cy="108" r="5.1" fill="#7f7f7f" stroke="#7f7f7f"/>
<circle cx="345" cy="115" r="5.1" fill="#440154" stroke="#440154"/>
<circle cx="332" cy="111" r="5.1" fill="#482475" stroke="#482475"/>
<circle cx="357" cy="113" r="5.1" fill="#7f7f7f" stroke="#7f7f7f"/>
<circle cx="374" cy="110.5" r="5.1" fill="#7f7f7f" stroke="#7f7f7f"/>
<circle cx="413" cy="107" r="5.1" fill="#440154" stroke="#440154"/>
<circle cx="420" cy="107" r="5.1" fill="#440154" stroke="#440154"/>
<circle cx="412" cy="112" r="5.1" fill="#440154" stroke="#440154"/>
<circle cx="428.5" cy="110" r="5.1" fill="#440154" stroke="#440154"/>
<circle cx="427.27" cy="110.41" r="5.1" fill="#440154" stroke="#440154"/>
<circle cx="440.5" cy="111.5" r="5.1" fill="#440154" stroke="#440154"/>
<circle cx="369" cy="94" r="5.1" fill="#7f7f7f" stroke="#7f7f7f"/>
<circle cx="472.6" cy="47.6" r="5.1" fill="#7f7f7f" stroke="#7f7f7f"/>
<circle cx="473.89" cy="47.41" r="5.1" fill="#7f7f7f" stroke="#7f7f7f"/>
<circle cx="483.7" cy="52.6" r="5.1" fill="#7f7f7f" stroke="#7f7f7f"/>
<circle cx="483.7" cy="52.8" r="5.1" fill="#7f7f7f" stroke="#7f7f7f"/>
<circle cx="492" cy="55" r="5.1" fill="#7f7f7f" stroke="#7f7f7f"/>
<circle cx="493" cy="58.4" r="5.1" fill="#440154" stroke="#440154"/>
<circle cx="493.98" cy="57.55" r="5.1" fill="#440154" stroke="#440154"/>
<circle cx="497.3" cy="64.4" r="5.1" fill="#7f7f7f" stroke="#7f7f7f"/>
<circle cx="496.54" cy="63.35" r="5.1" fill="#7f7f7f" stroke="#7f7f7f"/>
<circle cx="502.4" cy="63.7" r="5.1" fill="#7f7f7f" stroke="#7f7f7f"/>
<circle cx="501.28" cy="64.37" r="5.1" fill="#7f7f7f" stroke="#7f7f7f"/>
<circle cx="490.5" cy="69.5" r="5.1" fill="#440154" stroke="#440154"/>
<circle cx="491.07" cy="70.67" r="5.1" fill="#440154" stroke="#440154"/>
<circle cx="501.6" cy="73.5" r="5.1" fill="#7f7f7f" stroke="#7f7f7f"/>
<circle cx="475.8" cy="59.8" r="5.1" fill="#7f7f7f" stroke="#7f7f7f"/>
<circle cx="480.9" cy="64.4" r="5.1" fill="#7f7f7f" stroke="#7f7f7f"/>
<circle cx="476.9" cy="76.5" r="5.1" fill="#7f7f7f" stroke="#7f7f7f"/>
<circle cx="478.01" cy="77.18" r="5.1" fill="#7f7f7f" stroke="#7f7f7f"/>
<circle cx="479" cy="82.2" r="5.1" fill="#7f7f7f" stroke="#7f7f7f"/>
<circle cx="474.4" cy="80" r="5.1" fill="#7f7f7f" stroke="#7f7f7f"/>
<circle cx="478" cy="97.3" r="5.1" fill="#7f7f7f" stroke="#7f7f7f"/>
<circle cx="234" cy="118" r="5.1" fill="#2c738e" stroke="#2c738e"/>
<circle cx="250.5" cy="117.5" r="5.1" fill="#3b528b" stroke="#3b528b"/>
<circle cx="219.8" cy="124" r="5.1" fill="#44bf70" stroke="#44bf70"/>
<circle cx="216.5" cy="130" r="5.1" fill="#20a386" stroke="#20a386"/>
<circle cx="231.8" cy="125" r="5.1" fill="#2a788e" stroke="#2a788e"/>
<circle cx="258" cy="128" r="5.1" fill="#2a788e" stroke="#2a788e"/>
<circle cx="265" cy="135" r="5.1" fill="#7f7f7f" stroke="#7f7f7f"/>
<circle cx="275" cy="121" r="5.1" fill="#482475" stroke="#482475"/>
<circle cx="280" cy="124" r="5.1" fill="#463480" stroke="#463480"/>
<circle cx="281.23" cy="124.43" r="5.1" fill="#463480" stroke="#463480"/>
<circle cx="285" cy="127" r="5.1" fill="#433e85" stroke="#433e85"/>
<circle cx="285.54" cy="125.82" r="5.1" fill="#433e85" stroke="#433e85"/>
<circle cx="286" cy="131" r="5.1" fill="#471365" stroke="#471365"/>
<circle cx="292" cy="119" r="5.1" fill="#7f7f7f" stroke="#7f7f7f"/>
<circle cx="299" cy="117" r="5.1" fill="#414487" stroke="#414487"/>
<circle cx="299" cy="131" r="5.1" fill="#7f7f7f" stroke="#7f7f7f"/>
<circle cx="207.8" cy="141.8" r="5.1" fill="#463480" stroke="#463480"/>
<circle cx="212" cy="144.5" r="5.1" fill="#21918c" stroke="#21918c"/>
<circle cx="220" cy="145.5" r="5.1" fill="#1f958b" stroke="#1f958b"/>
<circle cx="228" cy="144.5" r="5.1" fill="#2c738e" stroke="#2c738e"/>
<circle cx="234" cy="141.5" r="5.1" fill="#414487" stroke="#414487"/>
<circle cx="253.5" cy="141" r="5.1" fill="#287d8e" stroke="#287d8e"/>
<circle cx="254.79" cy="141.16" r="5.1" fill="#287d8e" stroke="#287d8e"/>
<circle cx="241" cy="146" r="5.1" fill="#482475" stroke="#482475"/>
<circle cx="247" cy="146" r="5.1" fill="#355f8d" stroke="#355f8d"/>
<circle cx="271.5" cy="145.5" r="5.1" fill="#25848e" stroke="#25848e"/>
<circle cx="269" cy="150" r="5.1" fill="#472a7a" stroke="#472a7a"/>
<circle cx="281" cy="149" r="5.1" fill="#7f7f7f" stroke="#7f7f7f"/>
<circle cx="281" cy="149.2" r="5.1" fill="#472a7a" stroke="#472a7a"/>
<circle cx="294" cy="141.5" r="5.1" fill="#46085c" stroke="#46085c"/>
<circle cx="296.5" cy="143" r="5.1" fill="#440154" stroke="#440154"/>
<circle cx="295.25" cy="143.35" r="5.1" fill="#440154" stroke="#440154"/>
<circle cx="297" cy="150.5" r="5.1" fill="#7f7f7f" stroke="#7f7f7f"/>
<circle cx="297.24" cy="151.78" r="5.1" fill="#7f7f7f" stroke="#7f7f7f"/>
<circle cx="264.5" cy="154" r="5.1" fill="#7f7f7f" stroke="#7f7f7f"/>
<circle cx="264.5" cy="153.5" r="5.1" fill="#472a7a" stroke="#472a7a"/>
<circle cx="275.5" cy="156.5" r="5.1" fill="#7f7f7f" stroke="#7f7f7f"/>
<circle cx="251.5" cy="153" r="5.1" fill="#7f7f7f" stroke="#7f7f7f"/>
<circle cx="251.5" cy="152.5" r="5.1" fill="#7f7f7f" stroke="#7f7f7f"/>
<circle cx="236" cy="151" r="5.1" fill="#460b5e" stroke="#460b5e"/>
<circle cx="236.5" cy="151" r="5.1" fill="#7f7f7f" stroke="#7f7f7f"/>
<circle cx="245" cy="150" r="5.1" fill="#2f6c8e" stroke="#2f6c8e"/>
<circle cx="205" cy="155.5" r="5.1" fill="#22a884" stroke="#22a884"/>
<circle cx="207" cy="160.5" r="5.1" fill="#7f7f7f" stroke="#7f7f7f"/>
<circle cx="202" cy="168.5" r="5.1" fill="#7f7f7f" stroke="#7f7f7f"/>
<circle cx="208.5" cy="176" r="5.1" fill="#7f7f7f" stroke="#7f7f7f"/>
<circle cx="225" cy="170.5" r="5.1" fill="#7f7f7f" stroke="#7f7f7f"/>
<circle cx="250.5" cy="147" r="5.1" fill="#7f7f7f" stroke="#7f7f7f"/>
<circle cx="210" cy="157" r="5.1" fill="#20a386" stroke="#20a386"/>
<circle cx="198.5" cy="162.5" r="5.1" fill="#2fb47c" stroke="#2fb47c"/>
<circle cx="204" cy="163" r="5.1" fill="#26ad81" stroke="#26ad81"/>
<circle cx="205.07" cy="163.74" r="5.1" fill="#26ad81" stroke="#26ad81"/>
<circle cx="216" cy="149" r="5.1" fill="#2c738e" stroke="#2c738e"/>
<circle cx="220" cy="154" r="5.1" fill="#2c738e" stroke="#2c738e"/>
<circle cx="220.06" cy="155.3" r="5.1" fill="#7f7f7f" stroke="#7f7f7f"/>
<circle cx="228" cy="156" r="5.1" fill="#482475" stroke="#482475"/>
<circle cx="229.3" cy="156.05" r="5.1" fill="#7f7f7f" stroke="#7f7f7f"/>
<circle cx="222" cy="161" r="5.1" fill="#5ec962" stroke="#5ec962"/>
<circle cx="222.16" cy="159.71" r="5.1" fill="#355f8d" stroke="#355f8d"/>
<circle cx="212" cy="166" r="5.1" fill="#21918c" stroke="#21918c"/>
<circle cx="205" cy="171" r="5.1" fill="#375a8c" stroke="#375a8c"/>
<circle cx="206.12" cy="170.34" r="5.1" fill="#375a8c" stroke="#375a8c"/>
<circle cx="210" cy="172" r="5.1" fill="#21918c" stroke="#21918c"/>
<circle cx="234" cy="155" r="5.1" fill="#460b5e" stroke="#460b5e"/>
<circle cx="173.5" cy="165.2" r="5.1" fill="#d2e21b" stroke="#d2e21b"/>
<circle cx="240" cy="162.5" r="5.1" fill="#7f7f7f" stroke="#7f7f7f"/>
<circle cx="240.6" cy="161.34" r="5.1" fill="#7f7f7f" stroke="#7f7f7f"/>
<circle cx="247.5" cy="161.5" r="5.1" fill="#2a788e" stroke="#2a788e"/>
<circle cx="260" cy="165" r="5.1" fill="#7f7f7f" stroke="#7f7f7f"/>
<circle cx="264" cy="170.5" r="5.1" fill="#7f7f7f" stroke="#7f7f7f"/>
<circle cx="254" cy="168" r="5.1" fill="#7f7f7f" stroke="#7f7f7f"/>
<circle cx="253.88" cy="166.71" r="5.1" fill="#7f7f7f" stroke="#7f7f7f"/>
<circle cx="249" cy="171" r="5.1" fill="#7f7f7f" stroke="#7f7f7f"/>
<circle cx="232" cy="169" r="5.1" fill="#7f7f7f" stroke="#7f7f7f"/>
<circle cx="239" cy="168" r="5.1" fill="#46085c" stroke="#46085c"/>
<circle cx="262" cy="166" r="5.1" fill="#7f7f7f" stroke="#7f7f7f"/>
<circle cx="261.21" cy="164.97" r="5.1" fill="#7f7f7f" stroke="#7f7f7f"/>
<circle cx="272.5" cy="165" r="5.1" fill="#7f7f7f" stroke="#7f7f7f"/>
<circle cx="271.41" cy="165.7" r="5.1" fill="#7f7f7f" stroke="#7f7f7f"/>
<circle cx="263.5" cy="174" r="5.1" fill="#7f7f7f" stroke="#7f7f7f"/>
<circle cx="256" cy="176" r="5.1" fill="#481d6f" stroke="#481d6f"/>
<circle cx="216.5" cy="174.5" r="5.1" fill="#7f7f7f" stroke="#7f7f7f"/>
<circle cx="211.5" cy="182.5" r="5.1" fill="#7f7f7f" stroke="#7f7f7f"/>
<circle cx="205" cy="180.5" r="5.1" fill="#21918c" stroke="#21918c"/>
<circle cx="224.5" cy="182" r="5.1" fill="#21918c" stroke="#21918c"/>
<circle cx="236" cy="181" r="5.1" fill="#7f7f7f" stroke="#7f7f7f"/>
<circle cx="234.73" cy="181.28" r="5.1" fill="#7f7f7f" stroke="#7f7f7f"/>
<circle cx="243" cy="181.5" r="5.1" fill="#7f7f7f" stroke="#7f7f7f"/>
<circle cx="243.17" cy="182.79" r="5.1" fill="#7f7f7f" stroke="#7f7f7f"/>
<circle cx="232" cy="187" r="5.1" fill="#7f7f7f" stroke="#7f7f7f"/>
<circle cx="287.2" cy="172.5" r="5.1" fill="#7f7f7f" stroke="#7f7f7f"/>
<circle cx="287.5" cy="184" r="5.1" fill="#7f7f7f" stroke="#7f7f7f"/>
<circle cx="289" cy="189" r="5.1" fill="#7f7f7f" stroke="#7f7f7f"/>
<circle cx="262" cy="187" r="5.1" fill="#7f7f7f" stroke="#7f7f7f"/>
<circle cx="196" cy="182.5" r="5.1" fill="#25848e" stroke="#25848e"/>
<circle cx="195.5" cy="188" r="5.1" fill="#3bbb75" stroke="#3bbb75"/>
<circle cx="195.22" cy="189.27" r="5.1" fill="#7f7f7f" stroke="#7f7f7f"/>
<circle cx="185" cy="192.2" r="5.1" fill="#26ad81" stroke="#26ad81"/>
<circle cx="195.5" cy="197" r="5.1" fill="#7f7f7f" stroke="#7f7f7f"/>
<circle cx="194.32" cy="197.55" r="5.1" fill="#7f7f7f" stroke="#7f7f7f"/>
<circle cx="208" cy="198" r="5.1" fill="#7f7f7f" stroke="#7f7f7f"/>
<circle cx="219" cy="193" r="5.1" fill="#7f7f7f" stroke="#7f7f7f"/>
<circle cx="217.85" cy="192.4" r="5.1" fill="#7f7f7f" stroke="#7f7f7f"/>
<circle cx="217.5" cy="199" r="5.1" fill="#7f7f7f" stroke="#7f7f7f"/>
<circle cx="239" cy="195.5" r="5.1" fill="#7f7f7f" stroke="#7f7f7f"/>
<circle cx="249" cy="198" r="5.1" fill="#7f7f7f" stroke="#7f7f7f"/>
<circle cx="249" cy="201" r="5.1" fill="#7f7f7f" stroke="#7f7f7f"/>
<circle cx="265" cy="195.5" r="5.1" fill="#7f7f7f" stroke="#7f7f7f"/>
<circle cx="277.5" cy="194" r="5.1" fill="#7f7f7f" stroke="#7f7f7f"/>
<circle cx="277.5" cy="195.3" r="5.1" fill="#7f7f7f" stroke="#7f7f7f"/>
<circle cx="264.5" cy="201" r="5.1" fill="#7f7f7f" stroke="#7f7f7f"/>
<circle cx="307" cy="126" r="5.1" fill="#7f7f7f" stroke="#7f7f7f"/>
<circle cx="303" cy="122" r="5.1" fill="#3b528b" stroke="#3b528b"/>
<circle cx="303" cy="138.5" r="5.1" fill="#7f7f7f" stroke="#7f7f7f"/>
<circle cx="306" cy="146" r="5.1" fill="#440154" stroke="#440154"/>
<circle cx="304.75" cy="145.66" r="5.1" fill="#440154" stroke="#440154"/>
<circle cx="308" cy="153" r="5.1" fill="#440154" stroke="#440154"/>
<circle cx="307.55" cy="154.22" r="5.1" fill="#440154" stroke="#440154"/>
<circle cx="315" cy="149" r="5.1" fill="#440154" stroke="#440154"/>
<circle cx="324.5" cy="128.5" r="5.1" fill="#440154" stroke="#440154"/>
<circle cx="323.26" cy="128.89" r="5.1" fill="#440154" stroke="#440154"/>
<circle cx="325.5" cy="144" r="5.1" fill="#7f7f7f" stroke="#7f7f7f"/>
<circle cx="317.5" cy="156" r="5.1" fill="#7f7f7f" stroke="#7f7f7f"/>
<circle cx="333" cy="125.5" r="5.1" fill="#355f8d" stroke="#355f8d"/>
<circle cx="339.5" cy="141.5" r="5.1" fill="#7f7f7f" stroke="#7f7f7f"/>
<circle cx="341" cy="134" r="5.1" fill="#7f7f7f" stroke="#7f7f7f"/>
<circle cx="340.95" cy="132.7" r="5.1" fill="#7f7f7f" stroke="#7f7f7f"/>
<circle cx="340" cy="127" r="5.1" fill="#440154" stroke="#440154"/>
<circle cx="338.7" cy="126.94" r="5.1" fill="#440154" stroke="#440154"/>
<circle cx="344" cy="120" r="5.1" fill="#440154" stroke="#440154"/>
<circle cx="343.82" cy="121.29" r="5.1" fill="#440154" stroke="#440154"/>
<circle cx="349" cy="125" r="5.1" fill="#440154" stroke="#440154"/>
<circle cx="350.27" cy="125.29" r="5.1" fill="#440154" stroke="#440154"/>
<circle cx="356" cy="127" r="5.1" fill="#7f7f7f" stroke="#7f7f7f"/>
<circle cx="358" cy="121" r="5.1" fill="#7f7f7f" stroke="#7f7f7f"/>
<circle cx="360" cy="127" r="5.1" fill="#471365" stroke="#471365"/>
<circle cx="358.5" cy="140.5" r="5.1" fill="#440154" stroke="#440154"/>
<circle cx="372" cy="124" r="5.1" fill="#440154" stroke="#440154"/>
<circle cx="371.39" cy="125.15" r="5.1" fill="#440154" stroke="#440154"/>
<circle cx="383" cy="122" r="5.1" fill="#440154" stroke="#440154"/>
<circle cx="384.09" cy="122.7" r="5.1" fill="#440154" stroke="#440154"/>
<circle cx="393" cy="123.5" r="5.1" fill="#7f7f7f" stroke="#7f7f7f"/>
<circle cx="373.5" cy="138" r="5.1" fill="#440154" stroke="#440154"/>
<circle cx="373.61" cy="139.3" r="5.1" fill="#440154" stroke="#440154"/>
<circle cx="387" cy="136" r="5.1" fill="#7f7f7f" stroke="#7f7f7f"/>
<circle cx="388.3" cy="136.01" r="5.1" fill="#7f7f7f" stroke="#7f7f7f"/>
<circle cx="384" cy="139" r="5.1" fill="#7f7f7f" stroke="#7f7f7f"/>
<circle cx="390" cy="141" r="5.1" fill="#7f7f7f" stroke="#7f7f7f"/>
<circle cx="389" cy="147" r="5.1" fill="#7f7f7f" stroke="#7f7f7f"/>
<circle cx="378" cy="149" r="5.1" fill="#7f7f7f" stroke="#7f7f7f"/>
<circle cx="397.5" cy="137.5" r="5.1" fill="#440154" stroke="#440154"/>
<circle cx="397.15" cy="138.75" r="5.1" fill="#440154" stroke="#440154"/>
<circle cx="404" cy="140.5" r="5.1" fill="#440154" stroke="#440154"/>
<circle cx="403" cy="127" r="5.1" fill="#7f7f7f" stroke="#7f7f7f"/>
<circle cx="406" cy="127" r="5.1" fill="#7f7f7f" stroke="#7f7f7f"/>
<circle cx="414" cy="128" r="5.1" fill="#7f7f7f" stroke="#7f7f7f"/>
<circle cx="413" cy="122" r="5.1" fill="#7f7f7f" stroke="#7f7f7f"/>
<circle cx="413" cy="122.2" r="5.1" fill="#7f7f7f" stroke="#7f7f7f"/>
<circle cx="420" cy="118" r="5.1" fill="#471365" stroke="#471365"/>
<circle cx="432" cy="118" r="5.1" fill="#7f7f7f" stroke="#7f7f7f"/>
<circle cx="439.5" cy="124.5" r="5.1" fill="#440154" stroke="#440154"/>
<circle cx="354" cy="155.5" r="5.1" fill="#7f7f7f" stroke="#7f7f7f"/>
<circle cx="357" cy="154.5" r="5.1" fill="#7f7f7f" stroke="#7f7f7f"/>
<circle cx="359.2" cy="155.2" r="5.1" fill="#7f7f7f" stroke="#7f7f7f"/>
<circle cx="342.5" cy="160.5" r="5.1" fill="#7f7f7f" stroke="#7f7f7f"/>
<circle cx="341" cy="171.5" r="5.1" fill="#7f7f7f" stroke="#7f7f7f"/>
<circle cx="342.29" cy="171.68" r="5.1" fill="#7f7f7f" stroke="#7f7f7f"/>
<circle cx="341.5" cy="173.2" r="5.1" fill="#7f7f7f" stroke="#7f7f7f"/>
<circle cx="374" cy="165.8" r="5.1" fill="#7f7f7f" stroke="#7f7f7f"/>
<circle cx="365.5" cy="172" r="5.1" fill="#7f7f7f" stroke="#7f7f7f"/>
<circle cx="307" cy="175" r="5.1" fill="#7f7f7f" stroke="#7f7f7f"/>
<circle cx="308.18" cy="174.46" r="5.1" fill="#7f7f7f" stroke="#7f7f7f"/>
<circle cx="325.5" cy="178" r="5.1" fill="#7f7f7f" stroke="#7f7f7f"/>
<circle cx="329.5" cy="177" r="5.1" fill="#7f7f7f" stroke="#7f7f7f"/>
<circle cx="333.5" cy="183.5" r="5.1" fill="#7f7f7f" stroke="#7f7f7f"/>
<circle cx="303" cy="186" r="5.1" fill="#7f7f7f" stroke="#7f7f7f"/>
<circle cx="443.3" cy="124.5" r="5.1" fill="#440154" stroke="#440154"/>
<circle cx="208" cy="204.5" r="5.1" fill="#7f7f7f" stroke="#7f7f7f"/>
<circle cx="200" cy="207" r="5.1" fill="#7f7f7f" stroke="#7f7f7f"/>
<circle cx="272" cy="205" r="5.1" fill="#7f7f7f" stroke="#7f7f7f"/>
<circle cx="191" cy="215" r="5.1" fill="#7f7f7f" stroke="#7f7f7f"/>
<circle cx="191.01" cy="213.7" r="5.1" fill="#7f7f7f" stroke="#7f7f7f"/>
<circle cx="192" cy="213.2" r="5.1" fill="#bddf26" stroke="#bddf26"/>
<circle cx="207" cy="212.5" r="5.1" fill="#7f7f7f" stroke="#7f7f7f"/>
<circle cx="210" cy="212" r="5.1" fill="#7f7f7f" stroke="#7f7f7f"/>
<circle cx="197.5" cy="219.5" r="5.1" fill="#7f7f7f" stroke="#7f7f7f"/>
<circle cx="217.5" cy="215" r="5.1" fill="#7f7f7f" stroke="#7f7f7f"/>
<circle cx="218.75" cy="215.35" r="5.1" fill="#7f7f7f" stroke="#7f7f7f"/>
<circle cx="227" cy="211.8" r="5.1" fill="#7f7f7f" stroke="#7f7f7f"/>
<circle cx="240.5" cy="213.5" r="5.1" fill="#7f7f7f" stroke="#7f7f7f"/>
<circle cx="252" cy="215.8" r="5.1" fill="#7f7f7f" stroke="#7f7f7f"/>
<circle cx="288.8" cy="211.8" r="5.1" fill="#7f7f7f" stroke="#7f7f7f"/>
<circle cx="180.5" cy="223" r="5.1" fill="#7f7f7f" stroke="#7f7f7f"/>
<circle cx="185.5" cy="227" r="5.1" fill="#7f7f7f" stroke="#7f7f7f"/>
<circle cx="187.2" cy="232.5" r="5.1" fill="#6ece58" stroke="#6ece58"/>
<circle cx="255" cy="228.5" r="5.1" fill="#7f7f7f" stroke="#7f7f7f"/>
<circle cx="264" cy="237.5" r="5.1" fill="#7f7f7f" stroke="#7f7f7f"/>
<circle cx="257" cy="244" r="5.1" fill="#7f7f7f" stroke="#7f7f7f"/>
<circle cx="227.5" cy="235.5" r="5.1" fill="#7f7f7f" stroke="#7f7f7f"/>
<circle cx="232.5" cy="240.5" r="5.1" fill="#7f7f7f" stroke="#7f7f7f"/>
<circle cx="233.8" cy="240.57" r="5.1" fill="#7f7f7f" stroke="#7f7f7f"/>
<circle cx="230.5" cy="245.5" r="5.1" fill="#7f7f7f" stroke="#7f7f7f"/>
<circle cx="354.3" cy="83.3" r="5.1" fill="#440154" stroke="#440154"/>
<circle cx="349.1" cy="106.4" r="5.1" fill="#440154" stroke="#440154"/>
<circle cx="362.4" cy="102.4" r="5.1" fill="#440154" stroke="#440154"/>
<circle cx="371.6" cy="88.5" r="5.1" fill="#440154" stroke="#440154"/>
<circle cx="377.4" cy="52" r="5.1" fill="#7f7f7f" stroke="#7f7f7f"/>
<circle cx="332" cy="66.5" r="5.1" fill="#472a7a" stroke="#472a7a"/>
<circle cx="332" cy="111" r="5.1" fill="#463480" stroke="#463480"/>
</g>
<path class="tr" d="M97.6,28.5 L333.1,119.4 L375,151.8 L452.8,210.1"/>
<path class="tr" d="M333.1,119.4 L190.8,338.5"/>
<text transform="translate(357,111) scale(1,1.02)" text-anchor="middle" style="font-size:37.9px">3</text>
<path class="ax" d="M77.55,12 V354.2 H523.8"/>
<path class="ax" d="M71,81.15 H77.5"/>
<text class="tk" transform="translate(64.4,89.5) scale(1,1.05)" text-anchor="end">1</text>
<path class="ax" d="M71,157.3 H77.5"/>
<text class="tk" transform="translate(64.4,165.5) scale(1,1.05)" text-anchor="end">0</text>
<path class="ax" d="M71,233.45 H77.5"/>
<text class="tk" transform="translate(64.4,241.5) scale(1,1.05)" text-anchor="end">-1</text>
<path class="ax" d="M71,309.6 H77.5"/>
<text class="tk" transform="translate(64.4,317.5) scale(1,1.05)" text-anchor="end">-2</text>
<path class="ax" d="M184.6,354.2 V360.8"/>
<text class="tk" transform="translate(183.8,382.5) scale(1,1.05)" text-anchor="middle">-11</text>
<path class="ax" d="M337.75,354.2 V360.8"/>
<text class="tk" transform="translate(337.95,382.5) scale(1,1.05)" text-anchor="middle">-10</text>
<path class="ax" d="M490.95,354.2 V360.8"/>
<text class="tk" transform="translate(491.25,382.5) scale(1,1.05)" text-anchor="middle">-9</text>
<text class="ti" transform="translate(299.8,413.2) scale(1,1.05)" text-anchor="middle">UMAP 1</text>
<text class="ti" transform="translate(32.3,183.7) rotate(-90) scale(1,1.05)" text-anchor="middle">UMAP 2</text>
<text class="ti" transform="translate(548.7,112.8) scale(1,1.05)">pseudotime</text>
<rect x="548.9" y="129.9" width="29.3" height="145.5" fill="url(#vg)"/>
<path class="lt" d="M548.9,275.4 h5.9 M572.3,275.4 h5.9"/>
<text class="tk" transform="translate(592,283.5) scale(1,1.05)">0</text>
<path class="lt" d="M548.9,238.4 h5.9 M572.3,238.4 h5.9"/>
<text class="tk" transform="translate(592,246.5) scale(1,1.05)">2</text>
<path class="lt" d="M548.9,201.4 h5.9 M572.3,201.4 h5.9"/>
<text class="tk" transform="translate(592,209.5) scale(1,1.05)">4</text>
<path class="lt" d="M548.9,164.4 h5.9 M572.3,164.4 h5.9"/>
<text class="tk" transform="translate(592,172.5) scale(1,1.05)">6</text>
</g>
</svg>
</body>
</html>
